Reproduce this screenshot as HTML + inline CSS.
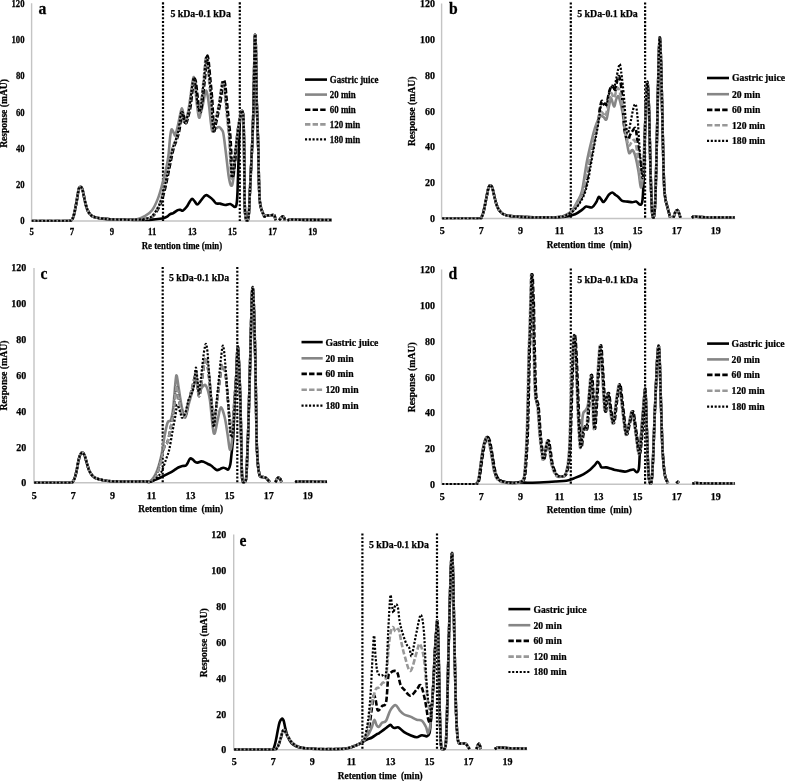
<!DOCTYPE html><html><head><meta charset="utf-8"><style>html,body{margin:0;padding:0;background:#fff;overflow:hidden}svg{display:block;will-change:transform}text{font-family:'Liberation Serif',serif;font-weight:bold;fill:#000;stroke:#000;stroke-width:0.25px}</style></head><body>
<svg width="785" height="781" viewBox="0 0 785 781">
<rect width="785" height="781" fill="#fff"/>
<g><path d="M31.6,3.3V221H332" fill="none" stroke="#c4c4c4" stroke-width="1.4"/><line x1="163" y1="2.3" x2="163" y2="221" stroke="#000" stroke-width="2.2" stroke-dasharray="2.1 1.64"/><line x1="239.8" y1="2.3" x2="239.8" y2="221" stroke="#000" stroke-width="2.2" stroke-dasharray="2.1 1.64"/><clipPath id="cpa"><rect x="31.6" y="0" width="303.4" height="221.75"/></clipPath><g clip-path="url(#cpa)"><path d="M31.7,221 C34.75,221 44.28,221 50,221 C55.72,221 62.67,221 66,221 C69.33,220.98 69.15,220.98 70,220.9 C70.85,220.82 70.63,220.93 71.1,220.5 C71.57,220.07 72.28,219.42 72.8,218.3 C73.32,217.18 73.73,215.68 74.2,213.8 C74.67,211.92 75.13,209.43 75.6,207 C76.07,204.57 76.58,201.63 77,199.2 C77.42,196.77 77.73,194.28 78.1,192.4 C78.47,190.52 78.78,188.83 79.2,187.9 C79.62,186.97 80.08,186.62 80.6,186.8 C81.12,186.98 81.82,187.78 82.3,189 C82.78,190.22 83.12,192.32 83.5,194.1 C83.88,195.88 84.18,197.82 84.6,199.7 C85.02,201.58 85.53,203.7 86,205.4 C86.47,207.1 86.78,208.5 87.4,209.9 C88.02,211.3 88.85,212.73 89.7,213.8 C90.55,214.87 91.28,215.65 92.5,216.3 C93.72,216.95 95.32,217.32 97,217.7 C98.68,218.08 100.43,218.35 102.6,218.6 C104.77,218.85 107.1,219.03 110,219.2 C112.9,219.37 116.67,219.5 120,219.6 C123.33,219.7 127.17,219.73 130,219.8 C132.83,219.87 134.5,219.98 137,220 C139.5,220.02 142.48,219.97 145,219.9 C147.52,219.83 149.6,219.8 152.1,219.6 C154.6,219.4 158,218.98 160,218.7 C162,218.42 162.92,218.23 164.1,217.9 C165.28,217.57 166.08,217.33 167.1,216.7 C168.12,216.07 169.17,214.7 170.2,214.1 C171.23,213.5 172.03,213.77 173.3,213.1 C174.57,212.43 176.62,210.63 177.8,210.1 C178.98,209.57 179.55,209.82 180.4,209.9 C181.25,209.98 181.88,211.08 182.9,210.6 C183.92,210.12 185.38,208.45 186.5,207 C187.62,205.55 188.67,203.25 189.6,201.9 C190.53,200.55 191.25,198.98 192.1,198.9 C192.95,198.82 193.85,200.47 194.7,201.4 C195.55,202.33 196.27,204.5 197.2,204.5 C198.13,204.5 199.2,202.68 200.3,201.4 C201.4,200.12 202.78,197.85 203.8,196.8 C204.82,195.75 205.37,195.02 206.4,195.1 C207.43,195.18 208.9,196.5 210,197.3 C211.1,198.1 211.98,198.88 213,199.9 C214.02,200.92 214.92,202.78 216.1,203.4 C217.28,204.02 218.58,203.33 220.1,203.6 C221.62,203.87 223.5,204.93 225.2,205 C226.9,205.07 228.68,203.67 230.3,204 C231.92,204.33 233.87,206.92 234.9,207 C235.93,207.08 236.07,207 236.5,204.5 C236.93,202 237.17,199.42 237.5,192 C237.83,184.58 238.17,170.33 238.5,160 C238.83,149.67 239.2,137.17 239.5,130 C239.8,122.83 239.88,120.25 240.3,117 C240.72,113.75 241.5,110.5 242,110.5 C242.5,110.5 242.97,112.08 243.3,117 C243.63,121.92 243.83,131.17 244,140 C244.17,148.83 244.2,160 244.3,170 C244.4,180 244.43,192.5 244.6,200 C244.77,207.5 244.98,211.62 245.3,215 C245.62,218.38 246.08,219.47 246.5,220.3 C246.92,221 247.38,221 247.8,220 C248.22,218.62 248.63,217 249,212 C249.37,207 249.63,197.83 250,190 C250.37,182.17 250.8,173.33 251.2,165 C251.6,156.67 252.03,149.17 252.4,140 C252.77,130.83 253.13,120 253.4,110 C253.67,100 253.82,90 254,80 C254.18,70 254.33,57.5 254.5,50 C254.67,42.5 254.8,36.33 255,35 C255.2,33.67 255.5,36.17 255.7,42 C255.9,47.83 256.03,60.33 256.2,70 C256.37,79.67 256.48,90.83 256.7,100 C256.92,109.17 257.23,116.67 257.5,125 C257.77,133.33 258.08,141.67 258.3,150 C258.52,158.33 258.65,168.33 258.8,175 C258.95,181.67 259.03,185.67 259.2,190 C259.37,194.33 259.48,197.95 259.8,201 C260.12,204.05 260.52,206.12 261.1,208.3 C261.68,210.48 262.75,212.73 263.3,214.1 C263.85,215.47 263.95,216.25 264.4,216.5 C264.85,216.75 265.23,215.78 266,215.6 C266.77,215.42 267.65,215.47 269,215.4 C270.35,215.33 273.08,214.77 274.1,215.2 C275.12,215.63 274.85,217.15 275.1,218 C275.35,218.85 275.52,219.92 275.6,220.3" fill="none" stroke="#000" stroke-width="2.6" stroke-linejoin="round"/><path d="M279.2,220.3 C279.5,219.92 280.37,218.68 281,218 C281.63,217.32 282.45,216.2 283,216.2 C283.55,216.2 283.97,217.32 284.3,218 C284.63,218.68 284.88,219.92 285,220.3" fill="none" stroke="#000" stroke-width="2.6" stroke-linejoin="round"/><path d="M287.5,220.3 C287.75,220.22 288.47,219.93 289,219.8 C289.53,219.67 289.7,219.52 290.7,219.5 C291.7,219.48 293.52,219.65 295,219.7 C296.48,219.75 297.1,219.77 299.6,219.8 C302.1,219.83 304.6,219.87 310,219.9 C315.4,219.93 328.33,219.98 332,220" fill="none" stroke="#000" stroke-width="2.6" stroke-linejoin="round"/><path d="M31.7,221 C34.75,221 44.28,221 50,221 C55.72,221 62.67,221 66,221 C69.33,220.98 69.15,220.98 70,220.9 C70.85,220.82 70.63,220.93 71.1,220.5 C71.57,220.07 72.28,219.42 72.8,218.3 C73.32,217.18 73.73,215.68 74.2,213.8 C74.67,211.92 75.13,209.43 75.6,207 C76.07,204.57 76.58,201.63 77,199.2 C77.42,196.77 77.73,194.28 78.1,192.4 C78.47,190.52 78.78,188.83 79.2,187.9 C79.62,186.97 80.08,186.62 80.6,186.8 C81.12,186.98 81.82,187.78 82.3,189 C82.78,190.22 83.12,192.32 83.5,194.1 C83.88,195.88 84.18,197.82 84.6,199.7 C85.02,201.58 85.53,203.7 86,205.4 C86.47,207.1 86.78,208.5 87.4,209.9 C88.02,211.3 88.85,212.73 89.7,213.8 C90.55,214.87 91.28,215.65 92.5,216.3 C93.72,216.95 95.32,217.32 97,217.7 C98.68,218.08 100.43,218.35 102.6,218.6 C104.77,218.85 107.1,219.03 110,219.2 C112.9,219.37 116.67,219.5 120,219.6 C123.33,219.7 127.17,219.87 130,219.8 C132.83,219.73 134.55,219.82 137,219.2 C139.45,218.58 142.18,217.6 144.7,216.1 C147.22,214.6 149.88,213.15 152.1,210.2 C154.32,207.25 156.28,202.82 158,198.4 C159.72,193.98 161.05,188.6 162.4,183.7 C163.75,178.8 165.1,173.62 166.1,169 C167.1,164.38 167.75,161.1 168.4,156 C169.05,150.9 169.48,142.8 170,138.4 C170.52,134 170.87,130.5 171.5,129.6 C172.13,128.7 173.17,132.05 173.8,133 C174.43,133.95 174.67,136.32 175.3,135.3 C175.93,134.28 176.82,130.22 177.6,126.9 C178.38,123.58 179.28,118.48 180,115.4 C180.72,112.32 181.27,108.4 181.9,108.4 C182.53,108.4 183.1,113.35 183.8,115.4 C184.5,117.45 185.32,121.6 186.1,120.7 C186.88,119.8 187.73,114.15 188.5,110 C189.27,105.85 190.03,100.3 190.7,95.8 C191.37,91.3 191.98,86.13 192.5,83 C193.02,79.87 193.35,76.83 193.8,77 C194.25,77.17 194.75,80.17 195.2,84 C195.65,87.83 195.88,94.45 196.5,100 C197.12,105.55 198.15,115.3 198.9,117.3 C199.65,119.3 200.32,114.22 201,112 C201.68,109.78 202.42,106.67 203,104 C203.58,101.33 204,98.22 204.5,96 C205,93.78 205.5,90.87 206,90.7 C206.5,90.53 206.98,92.45 207.5,95 C208.02,97.55 208.55,101.5 209.1,106 C209.65,110.5 210.28,117.83 210.8,122 C211.32,126.17 211.67,129.58 212.2,131 C212.73,132.42 213.37,130.92 214,130.5 C214.63,130.08 215.13,129.08 216,128.5 C216.87,127.92 218.28,126.83 219.2,127 C220.12,127.17 220.87,128.67 221.5,129.5 C222.13,130.33 222.53,130.27 223,132 C223.47,133.73 223.72,135.57 224.3,139.9 C224.88,144.23 225.8,152.15 226.5,158 C227.2,163.85 227.92,170.83 228.5,175 C229.08,179.17 229.58,181.25 230,183 C230.42,184.75 230.58,185.33 231,185.5 C231.42,185.67 231.97,186.58 232.5,184 C233.03,181.42 233.65,175.67 234.2,170 C234.75,164.33 235.28,155.83 235.8,150 C236.32,144.17 236.8,139.33 237.3,135 C237.8,130.67 238.3,127 238.8,124 C239.3,121 239.77,119.25 240.3,117 C240.83,114.75 241.5,110.5 242,110.5 C242.5,110.5 242.97,112.08 243.3,117 C243.63,121.92 243.83,131.17 244,140 C244.17,148.83 244.2,160 244.3,170 C244.4,180 244.43,192.5 244.6,200 C244.77,207.5 244.98,211.62 245.3,215 C245.62,218.38 246.08,219.47 246.5,220.3 C246.92,221 247.38,221 247.8,220 C248.22,218.62 248.63,217 249,212 C249.37,207 249.63,197.83 250,190 C250.37,182.17 250.8,173.33 251.2,165 C251.6,156.67 252.03,149.17 252.4,140 C252.77,130.83 253.13,120 253.4,110 C253.67,100 253.82,90 254,80 C254.18,70 254.33,57.5 254.5,50 C254.67,42.5 254.8,36.33 255,35 C255.2,33.67 255.5,36.17 255.7,42 C255.9,47.83 256.03,60.33 256.2,70 C256.37,79.67 256.48,90.83 256.7,100 C256.92,109.17 257.23,116.67 257.5,125 C257.77,133.33 258.08,141.67 258.3,150 C258.52,158.33 258.65,168.33 258.8,175 C258.95,181.67 259.03,185.67 259.2,190 C259.37,194.33 259.48,197.95 259.8,201 C260.12,204.05 260.52,206.12 261.1,208.3 C261.68,210.48 262.75,212.73 263.3,214.1 C263.85,215.47 263.95,216.25 264.4,216.5 C264.85,216.75 265.23,215.78 266,215.6 C266.77,215.42 267.65,215.47 269,215.4 C270.35,215.33 273.08,214.77 274.1,215.2 C275.12,215.63 274.85,217.15 275.1,218 C275.35,218.85 275.52,219.92 275.6,220.3" fill="none" stroke="#868686" stroke-width="2.6" stroke-linejoin="round"/><path d="M279.2,220.3 C279.5,219.92 280.37,218.68 281,218 C281.63,217.32 282.45,216.2 283,216.2 C283.55,216.2 283.97,217.32 284.3,218 C284.63,218.68 284.88,219.92 285,220.3" fill="none" stroke="#868686" stroke-width="2.6" stroke-linejoin="round"/><path d="M287.5,220.3 C287.75,220.22 288.47,219.93 289,219.8 C289.53,219.67 289.7,219.52 290.7,219.5 C291.7,219.48 293.52,219.65 295,219.7 C296.48,219.75 297.1,219.77 299.6,219.8 C302.1,219.83 304.6,219.87 310,219.9 C315.4,219.93 328.33,219.98 332,220" fill="none" stroke="#868686" stroke-width="2.6" stroke-linejoin="round"/><path d="M31.7,221 C34.75,221 44.28,221 50,221 C55.72,221 62.67,221 66,221 C69.33,220.98 69.15,220.98 70,220.9 C70.85,220.82 70.63,220.93 71.1,220.5 C71.57,220.07 72.28,219.42 72.8,218.3 C73.32,217.18 73.73,215.68 74.2,213.8 C74.67,211.92 75.13,209.43 75.6,207 C76.07,204.57 76.58,201.63 77,199.2 C77.42,196.77 77.73,194.28 78.1,192.4 C78.47,190.52 78.78,188.83 79.2,187.9 C79.62,186.97 80.08,186.62 80.6,186.8 C81.12,186.98 81.82,187.78 82.3,189 C82.78,190.22 83.12,192.32 83.5,194.1 C83.88,195.88 84.18,197.82 84.6,199.7 C85.02,201.58 85.53,203.7 86,205.4 C86.47,207.1 86.78,208.5 87.4,209.9 C88.02,211.3 88.85,212.73 89.7,213.8 C90.55,214.87 91.28,215.65 92.5,216.3 C93.72,216.95 95.32,217.32 97,217.7 C98.68,218.08 100.43,218.35 102.6,218.6 C104.77,218.85 107.1,219.03 110,219.2 C112.9,219.37 116.67,219.5 120,219.6 C123.33,219.7 127.17,219.8 130,219.8 C132.83,219.8 134.55,219.73 137,219.6 C139.45,219.47 142.03,219.58 144.7,219 C147.37,218.42 150.38,218.55 153,216.1 C155.62,213.65 158.43,208.72 160.4,204.3 C162.37,199.88 163.58,194.27 164.8,189.6 C166.02,184.93 166.72,180.97 167.7,176.3 C168.68,171.63 169.72,166.27 170.7,161.6 C171.68,156.93 172.62,151.9 173.6,148.3 C174.58,144.7 175.65,142.93 176.6,140 C177.55,137.07 178.55,134.37 179.3,130.7 C180.05,127.03 180.62,121.03 181.1,118 C181.58,114.97 181.8,113 182.2,112.5 C182.6,112 183.05,113.58 183.5,115 C183.95,116.42 184.42,119.67 184.9,121 C185.38,122.33 185.82,123.83 186.4,123 C186.98,122.17 187.7,118.83 188.4,116 C189.1,113.17 189.93,110.17 190.6,106 C191.27,101.83 191.88,95 192.4,91 C192.92,87 193.33,84.08 193.7,82 C194.07,79.92 194.23,78.5 194.6,78.5 C194.97,78.5 195.43,79.25 195.9,82 C196.37,84.75 196.9,90.83 197.4,95 C197.9,99.17 198.37,104.17 198.9,107 C199.43,109.83 200.05,112.67 200.6,112 C201.15,111.33 201.65,107 202.2,103 C202.75,99 203.42,92.33 203.9,88 C204.38,83.67 204.68,81.33 205.1,77 C205.52,72.67 206,65.58 206.4,62 C206.8,58.42 207.12,55.5 207.5,55.5 C207.88,55.5 208.22,57.92 208.7,62 C209.18,66.08 209.83,74 210.4,80 C210.97,86 211.63,91.67 212.1,98 C212.57,104.33 212.87,112.5 213.2,118 C213.53,123.5 213.73,129.67 214.1,131 C214.47,132.33 214.85,128.33 215.4,126 C215.95,123.67 216.62,120.67 217.4,117 C218.18,113.33 219.32,108.5 220.1,104 C220.88,99.5 221.47,93.92 222.1,90 C222.73,86.08 223.35,81.17 223.9,80.5 C224.45,79.83 224.97,83.17 225.4,86 C225.83,88.83 226,92.38 226.5,97.5 C227,102.62 227.75,110.12 228.4,116.7 C229.05,123.28 229.87,129.78 230.4,137 C230.93,144.22 231.23,153.25 231.6,160 C231.97,166.75 232.18,175.83 232.6,177.5 C233.02,179.17 233.58,173.75 234.1,170 C234.62,166.25 235.3,159.67 235.7,155 C236.1,150.33 236.03,146.83 236.5,142 C236.97,137.17 237.87,130.17 238.5,126 C239.13,121.83 239.72,119.58 240.3,117 C240.88,114.42 241.5,110.5 242,110.5 C242.5,110.5 242.97,112.08 243.3,117 C243.63,121.92 243.83,131.17 244,140 C244.17,148.83 244.2,160 244.3,170 C244.4,180 244.43,192.5 244.6,200 C244.77,207.5 244.98,211.62 245.3,215 C245.62,218.38 246.08,219.47 246.5,220.3 C246.92,221 247.38,221 247.8,220 C248.22,218.62 248.63,217 249,212 C249.37,207 249.63,197.83 250,190 C250.37,182.17 250.8,173.33 251.2,165 C251.6,156.67 252.03,149.17 252.4,140 C252.77,130.83 253.13,120 253.4,110 C253.67,100 253.82,90 254,80 C254.18,70 254.33,57.5 254.5,50 C254.67,42.5 254.8,36.33 255,35 C255.2,33.67 255.5,36.17 255.7,42 C255.9,47.83 256.03,60.33 256.2,70 C256.37,79.67 256.48,90.83 256.7,100 C256.92,109.17 257.23,116.67 257.5,125 C257.77,133.33 258.08,141.67 258.3,150 C258.52,158.33 258.65,168.33 258.8,175 C258.95,181.67 259.03,185.67 259.2,190 C259.37,194.33 259.48,197.95 259.8,201 C260.12,204.05 260.52,206.12 261.1,208.3 C261.68,210.48 262.75,212.73 263.3,214.1 C263.85,215.47 263.95,216.25 264.4,216.5 C264.85,216.75 265.23,215.78 266,215.6 C266.77,215.42 267.65,215.47 269,215.4 C270.35,215.33 273.08,214.77 274.1,215.2 C275.12,215.63 274.85,217.15 275.1,218 C275.35,218.85 275.52,219.92 275.6,220.3" fill="none" stroke="#000" stroke-width="2.6" stroke-dasharray="5.4 2.2" stroke-linejoin="round"/><path d="M279.2,220.3 C279.5,219.92 280.37,218.68 281,218 C281.63,217.32 282.45,216.2 283,216.2 C283.55,216.2 283.97,217.32 284.3,218 C284.63,218.68 284.88,219.92 285,220.3" fill="none" stroke="#000" stroke-width="2.6" stroke-dasharray="5.4 2.2" stroke-linejoin="round"/><path d="M287.5,220.3 C287.75,220.22 288.47,219.93 289,219.8 C289.53,219.67 289.7,219.52 290.7,219.5 C291.7,219.48 293.52,219.65 295,219.7 C296.48,219.75 297.1,219.77 299.6,219.8 C302.1,219.83 304.6,219.87 310,219.9 C315.4,219.93 328.33,219.98 332,220" fill="none" stroke="#000" stroke-width="2.6" stroke-dasharray="5.4 2.2" stroke-linejoin="round"/><path d="M31.7,221 C34.75,221 44.28,221 50,221 C55.72,221 62.67,221 66,221 C69.33,220.98 69.15,220.98 70,220.9 C70.85,220.82 70.63,220.93 71.1,220.5 C71.57,220.07 72.28,219.42 72.8,218.3 C73.32,217.18 73.73,215.68 74.2,213.8 C74.67,211.92 75.13,209.43 75.6,207 C76.07,204.57 76.58,201.63 77,199.2 C77.42,196.77 77.73,194.28 78.1,192.4 C78.47,190.52 78.78,188.83 79.2,187.9 C79.62,186.97 80.08,186.62 80.6,186.8 C81.12,186.98 81.82,187.78 82.3,189 C82.78,190.22 83.12,192.32 83.5,194.1 C83.88,195.88 84.18,197.82 84.6,199.7 C85.02,201.58 85.53,203.7 86,205.4 C86.47,207.1 86.78,208.5 87.4,209.9 C88.02,211.3 88.85,212.73 89.7,213.8 C90.55,214.87 91.28,215.65 92.5,216.3 C93.72,216.95 95.32,217.32 97,217.7 C98.68,218.08 100.43,218.35 102.6,218.6 C104.77,218.85 107.1,219.03 110,219.2 C112.9,219.37 116.67,219.5 120,219.6 C123.33,219.7 127.17,219.8 130,219.8 C132.83,219.8 134.55,219.73 137,219.6 C139.45,219.47 142.25,219.45 144.7,219 C147.15,218.55 149.3,219.22 151.7,216.9 C154.1,214.58 157.13,209.52 159.1,205.1 C161.07,200.68 162.28,195.07 163.5,190.4 C164.72,185.73 165.42,181.77 166.4,177.1 C167.38,172.43 168.42,167.07 169.4,162.4 C170.38,157.73 171.32,152.7 172.3,149.1 C173.28,145.5 174.35,143.73 175.3,140.8 C176.25,137.87 177.25,135.17 178,131.5 C178.75,127.83 179.32,121.83 179.8,118.8 C180.28,115.77 180.5,113.8 180.9,113.3 C181.3,112.8 181.75,114.38 182.2,115.8 C182.65,117.22 183.12,120.47 183.6,121.8 C184.08,123.13 184.52,124.63 185.1,123.8 C185.68,122.97 186.4,119.63 187.1,116.8 C187.8,113.97 188.63,110.97 189.3,106.8 C189.97,102.63 190.58,95.8 191.1,91.8 C191.62,87.8 192.03,84.88 192.4,82.8 C192.77,80.72 192.93,79.3 193.3,79.3 C193.67,79.3 194.13,80.05 194.6,82.8 C195.07,85.55 195.6,91.63 196.1,95.8 C196.6,99.97 197.07,104.97 197.6,107.8 C198.13,110.63 198.75,113.47 199.3,112.8 C199.85,112.13 200.35,107.8 200.9,103.8 C201.45,99.8 202.12,93.13 202.6,88.8 C203.08,84.47 203.38,82.13 203.8,77.8 C204.22,73.47 204.7,66.38 205.1,62.8 C205.5,59.22 205.82,56.3 206.2,56.3 C206.58,56.3 206.92,58.72 207.4,62.8 C207.88,66.88 208.53,74.8 209.1,80.8 C209.67,86.8 210.33,92.47 210.8,98.8 C211.27,105.13 211.57,113.3 211.9,118.8 C212.23,124.3 212.43,130.47 212.8,131.8 C213.17,133.13 213.55,129.13 214.1,126.8 C214.65,124.47 215.32,121.47 216.1,117.8 C216.88,114.13 218.02,109.3 218.8,104.8 C219.58,100.3 220.17,94.72 220.8,90.8 C221.43,86.88 222.05,81.97 222.6,81.3 C223.15,80.63 223.67,83.97 224.1,86.8 C224.53,89.63 224.7,93.18 225.2,98.3 C225.7,103.42 226.45,110.92 227.1,117.5 C227.75,124.08 228.57,130.58 229.1,137.8 C229.63,145.02 229.93,154.05 230.3,160.8 C230.67,167.55 230.88,176.63 231.3,178.3 C231.72,179.97 232.28,174.55 232.8,170.8 C233.32,167.05 233.78,160.6 234.4,155.8 C235.02,151 235.82,146.97 236.5,142 C237.18,137.03 237.87,130.17 238.5,126 C239.13,121.83 239.72,119.58 240.3,117 C240.88,114.42 241.5,110.5 242,110.5 C242.5,110.5 242.97,112.08 243.3,117 C243.63,121.92 243.83,131.17 244,140 C244.17,148.83 244.2,160 244.3,170 C244.4,180 244.43,192.5 244.6,200 C244.77,207.5 244.98,211.62 245.3,215 C245.62,218.38 246.08,219.47 246.5,220.3 C246.92,221 247.38,221 247.8,220 C248.22,218.62 248.63,217 249,212 C249.37,207 249.63,197.83 250,190 C250.37,182.17 250.8,173.33 251.2,165 C251.6,156.67 252.03,149.17 252.4,140 C252.77,130.83 253.13,120 253.4,110 C253.67,100 253.82,90 254,80 C254.18,70 254.33,57.5 254.5,50 C254.67,42.5 254.8,36.33 255,35 C255.2,33.67 255.5,36.17 255.7,42 C255.9,47.83 256.03,60.33 256.2,70 C256.37,79.67 256.48,90.83 256.7,100 C256.92,109.17 257.23,116.67 257.5,125 C257.77,133.33 258.08,141.67 258.3,150 C258.52,158.33 258.65,168.33 258.8,175 C258.95,181.67 259.03,185.67 259.2,190 C259.37,194.33 259.48,197.95 259.8,201 C260.12,204.05 260.52,206.12 261.1,208.3 C261.68,210.48 262.75,212.73 263.3,214.1 C263.85,215.47 263.95,216.25 264.4,216.5 C264.85,216.75 265.23,215.78 266,215.6 C266.77,215.42 267.65,215.47 269,215.4 C270.35,215.33 273.08,214.77 274.1,215.2 C275.12,215.63 274.85,217.15 275.1,218 C275.35,218.85 275.52,219.92 275.6,220.3" fill="none" stroke="#989898" stroke-width="2.6" stroke-dasharray="5.4 2.2" stroke-linejoin="round"/><path d="M279.2,220.3 C279.5,219.92 280.37,218.68 281,218 C281.63,217.32 282.45,216.2 283,216.2 C283.55,216.2 283.97,217.32 284.3,218 C284.63,218.68 284.88,219.92 285,220.3" fill="none" stroke="#989898" stroke-width="2.6" stroke-dasharray="5.4 2.2" stroke-linejoin="round"/><path d="M287.5,220.3 C287.75,220.22 288.47,219.93 289,219.8 C289.53,219.67 289.7,219.52 290.7,219.5 C291.7,219.48 293.52,219.65 295,219.7 C296.48,219.75 297.1,219.77 299.6,219.8 C302.1,219.83 304.6,219.87 310,219.9 C315.4,219.93 328.33,219.98 332,220" fill="none" stroke="#989898" stroke-width="2.6" stroke-dasharray="5.4 2.2" stroke-linejoin="round"/><path d="M31.7,221 C34.75,221 44.28,221 50,221 C55.72,221 62.67,221 66,221 C69.33,220.98 69.15,220.98 70,220.9 C70.85,220.82 70.63,220.93 71.1,220.5 C71.57,220.07 72.28,219.42 72.8,218.3 C73.32,217.18 73.73,215.68 74.2,213.8 C74.67,211.92 75.13,209.43 75.6,207 C76.07,204.57 76.58,201.63 77,199.2 C77.42,196.77 77.73,194.28 78.1,192.4 C78.47,190.52 78.78,188.83 79.2,187.9 C79.62,186.97 80.08,186.62 80.6,186.8 C81.12,186.98 81.82,187.78 82.3,189 C82.78,190.22 83.12,192.32 83.5,194.1 C83.88,195.88 84.18,197.82 84.6,199.7 C85.02,201.58 85.53,203.7 86,205.4 C86.47,207.1 86.78,208.5 87.4,209.9 C88.02,211.3 88.85,212.73 89.7,213.8 C90.55,214.87 91.28,215.65 92.5,216.3 C93.72,216.95 95.32,217.32 97,217.7 C98.68,218.08 100.43,218.35 102.6,218.6 C104.77,218.85 107.1,219.03 110,219.2 C112.9,219.37 116.67,219.5 120,219.6 C123.33,219.7 127.17,219.8 130,219.8 C132.83,219.8 134.55,219.73 137,219.6 C139.45,219.47 142.18,219.58 144.7,219 C147.22,218.42 149.63,218.55 152.1,216.1 C154.57,213.65 157.53,208.72 159.5,204.3 C161.47,199.88 162.68,194.27 163.9,189.6 C165.12,184.93 165.82,180.97 166.8,176.3 C167.78,171.63 168.82,166.27 169.8,161.6 C170.78,156.93 171.72,151.9 172.7,148.3 C173.68,144.7 174.75,142.93 175.7,140 C176.65,137.07 177.65,134.37 178.4,130.7 C179.15,127.03 179.72,121.03 180.2,118 C180.68,114.97 180.9,113 181.3,112.5 C181.7,112 182.15,113.58 182.6,115 C183.05,116.42 183.52,119.67 184,121 C184.48,122.33 184.92,123.83 185.5,123 C186.08,122.17 186.8,118.83 187.5,116 C188.2,113.17 189.03,110.17 189.7,106 C190.37,101.83 190.98,95 191.5,91 C192.02,87 192.43,84.08 192.8,82 C193.17,79.92 193.33,78.5 193.7,78.5 C194.07,78.5 194.53,79.25 195,82 C195.47,84.75 196,90.83 196.5,95 C197,99.17 197.47,104.17 198,107 C198.53,109.83 199.15,112.67 199.7,112 C200.25,111.33 200.75,107 201.3,103 C201.85,99 202.52,92.33 203,88 C203.48,83.67 203.78,81.33 204.2,77 C204.62,72.67 205.1,65.58 205.5,62 C205.9,58.42 206.22,55.5 206.6,55.5 C206.98,55.5 207.32,57.92 207.8,62 C208.28,66.08 208.93,74 209.5,80 C210.07,86 210.73,91.67 211.2,98 C211.67,104.33 211.97,112.5 212.3,118 C212.63,123.5 212.83,129.67 213.2,131 C213.57,132.33 213.95,128.33 214.5,126 C215.05,123.67 215.72,120.67 216.5,117 C217.28,113.33 218.42,108.5 219.2,104 C219.98,99.5 220.57,93.92 221.2,90 C221.83,86.08 222.45,81.17 223,80.5 C223.55,79.83 224.07,83.17 224.5,86 C224.93,88.83 225.1,92.38 225.6,97.5 C226.1,102.62 226.85,110.12 227.5,116.7 C228.15,123.28 228.97,129.78 229.5,137 C230.03,144.22 230.33,153.25 230.7,160 C231.07,166.75 231.28,175.83 231.7,177.5 C232.12,179.17 232.68,173.75 233.2,170 C233.72,166.25 234.25,159.67 234.8,155 C235.35,150.33 235.88,146.83 236.5,142 C237.12,137.17 237.87,130.17 238.5,126 C239.13,121.83 239.72,119.58 240.3,117 C240.88,114.42 241.5,110.5 242,110.5 C242.5,110.5 242.97,112.08 243.3,117 C243.63,121.92 243.83,131.17 244,140 C244.17,148.83 244.2,160 244.3,170 C244.4,180 244.43,192.5 244.6,200 C244.77,207.5 244.98,211.62 245.3,215 C245.62,218.38 246.08,219.47 246.5,220.3 C246.92,221 247.38,221 247.8,220 C248.22,218.62 248.63,217 249,212 C249.37,207 249.63,197.83 250,190 C250.37,182.17 250.8,173.33 251.2,165 C251.6,156.67 252.03,149.17 252.4,140 C252.77,130.83 253.13,120 253.4,110 C253.67,100 253.82,90 254,80 C254.18,70 254.33,57.5 254.5,50 C254.67,42.5 254.8,36.33 255,35 C255.2,33.67 255.5,36.17 255.7,42 C255.9,47.83 256.03,60.33 256.2,70 C256.37,79.67 256.48,90.83 256.7,100 C256.92,109.17 257.23,116.67 257.5,125 C257.77,133.33 258.08,141.67 258.3,150 C258.52,158.33 258.65,168.33 258.8,175 C258.95,181.67 259.03,185.67 259.2,190 C259.37,194.33 259.48,197.95 259.8,201 C260.12,204.05 260.52,206.12 261.1,208.3 C261.68,210.48 262.75,212.73 263.3,214.1 C263.85,215.47 263.95,216.25 264.4,216.5 C264.85,216.75 265.23,215.78 266,215.6 C266.77,215.42 267.65,215.47 269,215.4 C270.35,215.33 273.08,214.77 274.1,215.2 C275.12,215.63 274.85,217.15 275.1,218 C275.35,218.85 275.52,219.92 275.6,220.3" fill="none" stroke="#000" stroke-width="2.2" stroke-dasharray="2.1 1.67" stroke-linejoin="round"/><path d="M279.2,220.3 C279.5,219.92 280.37,218.68 281,218 C281.63,217.32 282.45,216.2 283,216.2 C283.55,216.2 283.97,217.32 284.3,218 C284.63,218.68 284.88,219.92 285,220.3" fill="none" stroke="#000" stroke-width="2.2" stroke-dasharray="2.1 1.67" stroke-linejoin="round"/><path d="M287.5,220.3 C287.75,220.22 288.47,219.93 289,219.8 C289.53,219.67 289.7,219.52 290.7,219.5 C291.7,219.48 293.52,219.65 295,219.7 C296.48,219.75 297.1,219.77 299.6,219.8 C302.1,219.83 304.6,219.87 310,219.9 C315.4,219.93 328.33,219.98 332,220" fill="none" stroke="#000" stroke-width="2.2" stroke-dasharray="2.1 1.67" stroke-linejoin="round"/></g><text transform="translate(31.7,235.43) scale(0.92,1)" font-size="9.5" text-anchor="middle">5</text><text transform="translate(71.84,235.43) scale(0.92,1)" font-size="9.5" text-anchor="middle">7</text><text transform="translate(111.98,235.43) scale(0.92,1)" font-size="9.5" text-anchor="middle">9</text><text transform="translate(152.12,235.43) scale(0.92,1)" font-size="9.5" text-anchor="middle">11</text><text transform="translate(192.26,235.43) scale(0.92,1)" font-size="9.5" text-anchor="middle">13</text><text transform="translate(232.4,235.43) scale(0.92,1)" font-size="9.5" text-anchor="middle">15</text><text transform="translate(272.54,235.43) scale(0.92,1)" font-size="9.5" text-anchor="middle">17</text><text transform="translate(312.68,235.43) scale(0.92,1)" font-size="9.5" text-anchor="middle">19</text><text transform="translate(24.6,6.7) scale(0.92,1)" font-size="9.5" text-anchor="end">120</text><text transform="translate(24.6,43) scale(0.92,1)" font-size="9.5" text-anchor="end">100</text><text transform="translate(24.6,79.4) scale(0.92,1)" font-size="9.5" text-anchor="end">80</text><text transform="translate(24.6,115.8) scale(0.92,1)" font-size="9.5" text-anchor="end">60</text><text transform="translate(24.6,152.1) scale(0.92,1)" font-size="9.5" text-anchor="end">40</text><text transform="translate(24.6,188.4) scale(0.92,1)" font-size="9.5" text-anchor="end">20</text><text transform="translate(24.6,224.4) scale(0.92,1)" font-size="9.5" text-anchor="end">0</text><text transform="translate(6.53,113.5) rotate(-90)" font-size="9.5" text-anchor="middle" textLength="68.7" lengthAdjust="spacingAndGlyphs">Response (mAU)</text><text x="141.7" y="248.7" font-size="10" textLength="80.5" lengthAdjust="spacingAndGlyphs" xml:space="preserve">Re tention time (min)</text><text transform="translate(38.4,14.2) scale(0.95,1)" font-size="16.5">a</text><text x="170.4" y="16.7" font-size="10" textLength="60.5" lengthAdjust="spacingAndGlyphs">5 kDa-0.1 kDa</text><line x1="305" y1="79.6" x2="327" y2="79.6" stroke="#000" stroke-width="2.6"/><text transform="translate(329.8,83) scale(0.89,1)" font-size="10">Gastric juice</text><line x1="305" y1="94.6" x2="327" y2="94.6" stroke="#868686" stroke-width="2.6"/><text transform="translate(329.8,98) scale(0.89,1)" font-size="10">20 min</text><line x1="305" y1="109.7" x2="327" y2="109.7" stroke="#000" stroke-width="2.6" stroke-dasharray="5.4 2.2"/><text transform="translate(329.8,113.1) scale(0.89,1)" font-size="10">60 min</text><line x1="305" y1="124.4" x2="327" y2="124.4" stroke="#989898" stroke-width="2.6" stroke-dasharray="5.4 2.2"/><text transform="translate(329.8,127.8) scale(0.89,1)" font-size="10">120 min</text><line x1="305" y1="139.3" x2="327" y2="139.3" stroke="#000" stroke-width="2.2" stroke-dasharray="2.1 1.67"/><text transform="translate(329.8,142.7) scale(0.89,1)" font-size="10">180 min</text></g>
<g><path d="M441.6,3.4V218.5H735.2" fill="none" stroke="#c4c4c4" stroke-width="1.4"/><line x1="570.8" y1="2.4" x2="570.8" y2="218.5" stroke="#000" stroke-width="2.2" stroke-dasharray="2.1 1.64"/><line x1="645.1" y1="2.4" x2="645.1" y2="218.5" stroke="#000" stroke-width="2.2" stroke-dasharray="2.1 1.64"/><clipPath id="cpb"><rect x="441.6" y="0" width="296.6" height="219.25"/></clipPath><g clip-path="url(#cpb)"><path d="M442.3,218.6 C445.25,218.5 453.8,218.5 460,218.5 C466.2,218.5 476.08,218.5 479.5,218.5 C482.92,218.5 479.97,218.5 480.5,218.3 C481.03,217.63 482.02,216.5 482.7,214.6 C483.38,212.7 483.95,209.87 484.6,206.9 C485.25,203.93 485.95,199.98 486.6,196.8 C487.25,193.62 487.87,189.73 488.5,187.8 C489.13,185.87 489.77,185.2 490.4,185.2 C491.03,185.2 491.67,186.08 492.3,187.8 C492.93,189.52 493.57,192.95 494.2,195.5 C494.83,198.05 495.35,200.77 496.1,203.1 C496.85,205.43 497.53,207.68 498.7,209.5 C499.87,211.32 501.3,212.93 503.1,214 C504.9,215.07 506.52,215.42 509.5,215.9 C512.48,216.38 516.97,216.65 521,216.9 C525.03,217.15 528.4,217.32 533.7,217.4 C539,217.48 548.42,217.47 552.8,217.4 C557.18,217.33 557.97,217.12 560,217 C562.03,216.88 562.48,217.17 565,216.7 C567.52,216.23 572.28,215.33 575.1,214.2 C577.92,213.07 580.07,211.17 581.9,209.9 C583.73,208.63 584.42,207.02 586.1,206.6 C587.78,206.18 590.32,208.12 592,207.4 C593.68,206.68 595.07,204.07 596.2,202.3 C597.33,200.53 597.95,197.27 598.8,196.8 C599.65,196.33 600.45,198.67 601.3,199.5 C602.15,200.33 602.63,202.6 603.9,201.8 C605.17,201 607.52,196.25 608.9,194.7 C610.28,193.15 611.1,192.45 612.2,192.5 C613.3,192.55 614.48,194.25 615.5,195 C616.52,195.75 617.18,196.03 618.3,197 C619.42,197.97 620.65,200.03 622.2,200.8 C623.75,201.57 625.92,201.35 627.6,201.6 C629.28,201.85 630.87,202.3 632.3,202.3 C633.73,202.3 634.9,201.2 636.2,201.6 C637.5,202 639.05,204.97 640.1,204.7 C641.15,204.43 641.85,205.78 642.5,200 C643.15,194.22 643.5,184.17 644,170 C644.5,155.83 644.95,129.67 645.5,115 C646.05,100.33 646.72,82.83 647.3,82 C647.88,81.17 648.47,95.33 649,110 C649.53,124.67 650.05,154.17 650.5,170 C650.95,185.83 651.33,197.25 651.7,205 C652.07,212.75 652.28,214.83 652.7,216.5 C653.12,218.17 653.73,218.5 654.2,215 C654.67,211.42 655.03,208.33 655.5,195 C655.97,181.67 656.5,156.17 657,135 C657.5,113.83 658.07,84.17 658.5,68 C658.93,51.83 659.25,41 659.6,38 C659.95,35 660.28,43 660.6,50 C660.92,57 661.17,67 661.5,80 C661.83,93 662.22,111.83 662.6,128 C662.98,144.17 663.38,165.5 663.8,177 C664.22,188.5 664.47,191.87 665.1,197 C665.73,202.13 666.75,204.38 667.6,207.8 C668.45,211.22 669.77,215.88 670.2,217.5" fill="none" stroke="#000" stroke-width="2.6" stroke-linejoin="round"/><path d="M673.5,217.6 C673.8,216.72 674.58,213.5 675.3,212.3 C676.02,211.1 676.95,209.52 677.8,210.4 C678.65,211.28 679.97,216.4 680.4,217.6" fill="none" stroke="#000" stroke-width="2.6" stroke-linejoin="round"/><path d="M691.8,217.6 C692.17,217.43 692.63,216.7 694,216.6 C695.37,216.5 697.33,216.88 700,217 C702.67,217.12 704.25,217.23 710,217.3 C715.75,217.37 730.42,217.38 734.5,217.4" fill="none" stroke="#000" stroke-width="2.6" stroke-linejoin="round"/><path d="M442.3,218.6 C445.25,218.5 453.8,218.5 460,218.5 C466.2,218.5 476.08,218.5 479.5,218.5 C482.92,218.5 479.97,218.5 480.5,218.3 C481.03,217.63 482.02,216.5 482.7,214.6 C483.38,212.7 483.95,209.87 484.6,206.9 C485.25,203.93 485.95,199.98 486.6,196.8 C487.25,193.62 487.87,189.73 488.5,187.8 C489.13,185.87 489.77,185.2 490.4,185.2 C491.03,185.2 491.67,186.08 492.3,187.8 C492.93,189.52 493.57,192.95 494.2,195.5 C494.83,198.05 495.35,200.77 496.1,203.1 C496.85,205.43 497.53,207.68 498.7,209.5 C499.87,211.32 501.3,212.93 503.1,214 C504.9,215.07 506.52,215.42 509.5,215.9 C512.48,216.38 516.97,216.65 521,216.9 C525.03,217.15 528.4,217.32 533.7,217.4 C539,217.48 548.42,217.47 552.8,217.4 C557.18,217.33 557.97,217.32 560,217 C562.03,216.68 563,216.58 565,215.5 C567,214.42 570,212.75 572,210.5 C574,208.25 575.35,205.18 577,202 C578.65,198.82 580.23,198.23 581.9,191.4 C583.57,184.57 585.32,169.73 587,161 C588.68,152.27 590.67,144.5 592,139 C593.33,133.5 594,131.17 595,128 C596,124.83 597.03,122.05 598,120 C598.97,117.95 599.88,116.2 600.8,115.7 C601.72,115.2 602.55,116.42 603.5,117 C604.45,117.58 605.58,121.03 606.5,119.2 C607.42,117.37 608.23,109.47 609,106 C609.77,102.53 610.27,98.32 611.1,98.4 C611.93,98.48 613.18,106.23 614,106.5 C614.82,106.77 615.32,101.73 616,100 C616.68,98.27 617.43,95.93 618.1,96.1 C618.77,96.27 619.23,98.12 620,101 C620.77,103.88 621.87,108.45 622.7,113.4 C623.53,118.35 624.28,125.77 625,130.7 C625.72,135.63 626.3,139.27 627,143 C627.7,146.73 628.32,151.93 629.2,153.1 C630.08,154.27 631.27,149.47 632.3,150 C633.33,150.53 634.35,152.65 635.4,156.3 C636.45,159.95 637.68,166.7 638.6,171.9 C639.52,177.1 640.17,186.98 640.9,187.5 C641.63,188.02 642.4,182.92 643,175 C643.6,167.08 644.08,150 644.5,140 C644.92,130 645.03,124.67 645.5,115 C645.97,105.33 646.72,82.83 647.3,82 C647.88,81.17 648.47,95.33 649,110 C649.53,124.67 650.05,154.17 650.5,170 C650.95,185.83 651.33,197.25 651.7,205 C652.07,212.75 652.28,214.83 652.7,216.5 C653.12,218.17 653.73,218.5 654.2,215 C654.67,211.42 655.03,208.33 655.5,195 C655.97,181.67 656.5,156.17 657,135 C657.5,113.83 658.07,84.17 658.5,68 C658.93,51.83 659.25,41 659.6,38 C659.95,35 660.28,43 660.6,50 C660.92,57 661.17,67 661.5,80 C661.83,93 662.22,111.83 662.6,128 C662.98,144.17 663.38,165.5 663.8,177 C664.22,188.5 664.47,191.87 665.1,197 C665.73,202.13 666.75,204.38 667.6,207.8 C668.45,211.22 669.77,215.88 670.2,217.5" fill="none" stroke="#868686" stroke-width="2.6" stroke-linejoin="round"/><path d="M673.5,217.6 C673.8,216.72 674.58,213.5 675.3,212.3 C676.02,211.1 676.95,209.52 677.8,210.4 C678.65,211.28 679.97,216.4 680.4,217.6" fill="none" stroke="#868686" stroke-width="2.6" stroke-linejoin="round"/><path d="M691.8,217.6 C692.17,217.43 692.63,216.7 694,216.6 C695.37,216.5 697.33,216.88 700,217 C702.67,217.12 704.25,217.23 710,217.3 C715.75,217.37 730.42,217.38 734.5,217.4" fill="none" stroke="#868686" stroke-width="2.6" stroke-linejoin="round"/><path d="M442.3,218.6 C445.25,218.5 453.8,218.5 460,218.5 C466.2,218.5 476.08,218.5 479.5,218.5 C482.92,218.5 479.97,218.5 480.5,218.3 C481.03,217.63 482.02,216.5 482.7,214.6 C483.38,212.7 483.95,209.87 484.6,206.9 C485.25,203.93 485.95,199.98 486.6,196.8 C487.25,193.62 487.87,189.73 488.5,187.8 C489.13,185.87 489.77,185.2 490.4,185.2 C491.03,185.2 491.67,186.08 492.3,187.8 C492.93,189.52 493.57,192.95 494.2,195.5 C494.83,198.05 495.35,200.77 496.1,203.1 C496.85,205.43 497.53,207.68 498.7,209.5 C499.87,211.32 501.3,212.93 503.1,214 C504.9,215.07 506.52,215.42 509.5,215.9 C512.48,216.38 516.97,216.65 521,216.9 C525.03,217.15 528.4,217.32 533.7,217.4 C539,217.48 548.42,217.47 552.8,217.4 C557.18,217.33 557.97,217.27 560,217 C562.03,216.73 563.03,216.7 565,215.8 C566.97,214.9 569.72,213.42 571.8,211.6 C573.88,209.78 575.63,207.72 577.5,204.9 C579.37,202.08 581.45,198.65 583,194.7 C584.55,190.75 585.63,186.48 586.8,181.2 C587.97,175.92 588.93,168.87 590,163 C591.07,157.13 592.17,151.33 593.2,146 C594.23,140.67 595.3,135.5 596.2,131 C597.1,126.5 598,122.67 598.6,119 C599.2,115.33 599.28,112 599.8,109 C600.32,106 601,102 601.7,101 C602.4,100 603.2,102.47 604,103 C604.8,103.53 605.75,105.53 606.5,104.2 C607.25,102.87 607.92,97.5 608.5,95 C609.08,92.5 609.37,90.73 610,89.2 C610.63,87.67 611.63,86 612.3,85.8 C612.97,85.6 613.52,87.05 614,88 C614.48,88.95 614.62,93.03 615.2,91.5 C615.78,89.97 616.83,81.3 617.5,78.8 C618.17,76.3 618.62,75.47 619.2,76.5 C619.78,77.53 620.42,80.25 621,85 C621.58,89.75 622.12,97.55 622.7,105 C623.28,112.45 623.68,123.77 624.5,129.7 C625.32,135.63 626.68,139.72 627.6,140.6 C628.52,141.48 629.22,136.55 630,135 C630.78,133.45 631.4,132.45 632.3,131.3 C633.2,130.15 634.62,127.07 635.4,128.1 C636.18,129.13 636.35,133.07 637,137.5 C637.65,141.93 638.38,148.45 639.3,154.7 C640.22,160.95 641.72,174.12 642.5,175 C643.28,175.88 643.5,170 644,160 C644.5,150 644.95,128 645.5,115 C646.05,102 646.72,82.83 647.3,82 C647.88,81.17 648.47,95.33 649,110 C649.53,124.67 650.05,154.17 650.5,170 C650.95,185.83 651.33,197.25 651.7,205 C652.07,212.75 652.28,214.83 652.7,216.5 C653.12,218.17 653.73,218.5 654.2,215 C654.67,211.42 655.03,208.33 655.5,195 C655.97,181.67 656.5,156.17 657,135 C657.5,113.83 658.07,84.17 658.5,68 C658.93,51.83 659.25,41 659.6,38 C659.95,35 660.28,43 660.6,50 C660.92,57 661.17,67 661.5,80 C661.83,93 662.22,111.83 662.6,128 C662.98,144.17 663.38,165.5 663.8,177 C664.22,188.5 664.47,191.87 665.1,197 C665.73,202.13 666.75,204.38 667.6,207.8 C668.45,211.22 669.77,215.88 670.2,217.5" fill="none" stroke="#000" stroke-width="2.6" stroke-dasharray="5.4 2.2" stroke-linejoin="round"/><path d="M673.5,217.6 C673.8,216.72 674.58,213.5 675.3,212.3 C676.02,211.1 676.95,209.52 677.8,210.4 C678.65,211.28 679.97,216.4 680.4,217.6" fill="none" stroke="#000" stroke-width="2.6" stroke-dasharray="5.4 2.2" stroke-linejoin="round"/><path d="M691.8,217.6 C692.17,217.43 692.63,216.7 694,216.6 C695.37,216.5 697.33,216.88 700,217 C702.67,217.12 704.25,217.23 710,217.3 C715.75,217.37 730.42,217.38 734.5,217.4" fill="none" stroke="#000" stroke-width="2.6" stroke-dasharray="5.4 2.2" stroke-linejoin="round"/><path d="M442.3,218.6 C445.25,218.5 453.8,218.5 460,218.5 C466.2,218.5 476.08,218.5 479.5,218.5 C482.92,218.5 479.97,218.5 480.5,218.3 C481.03,217.63 482.02,216.5 482.7,214.6 C483.38,212.7 483.95,209.87 484.6,206.9 C485.25,203.93 485.95,199.98 486.6,196.8 C487.25,193.62 487.87,189.73 488.5,187.8 C489.13,185.87 489.77,185.2 490.4,185.2 C491.03,185.2 491.67,186.08 492.3,187.8 C492.93,189.52 493.57,192.95 494.2,195.5 C494.83,198.05 495.35,200.77 496.1,203.1 C496.85,205.43 497.53,207.68 498.7,209.5 C499.87,211.32 501.3,212.93 503.1,214 C504.9,215.07 506.52,215.42 509.5,215.9 C512.48,216.38 516.97,216.65 521,216.9 C525.03,217.15 528.4,217.32 533.7,217.4 C539,217.48 548.42,217.47 552.8,217.4 C557.18,217.33 557.97,217.3 560,217 C562.03,216.7 563,216.6 565,215.6 C567,214.6 569.97,213.02 572,211 C574.03,208.98 575.45,206.5 577.2,203.5 C578.95,200.5 580.95,197.75 582.5,193 C584.05,188.25 585.33,180.5 586.5,175 C587.67,169.5 588.45,165.33 589.5,160 C590.55,154.67 591.75,148 592.8,143 C593.85,138 594.85,134 595.8,130 C596.75,126 597.67,122 598.5,119 C599.33,116 599.97,112.83 600.8,112 C601.63,111.17 602.67,113.42 603.5,114 C604.33,114.58 604.88,117.83 605.8,115.5 C606.72,113.17 608.12,103.75 609,100 C609.88,96.25 610.27,93.33 611.1,93 C611.93,92.67 613.18,98.17 614,98 C614.82,97.83 615.32,93.67 616,92 C616.68,90.33 617.43,87.83 618.1,88 C618.77,88.17 619.23,89.67 620,93 C620.77,96.33 621.87,102.17 622.7,108 C623.53,113.83 624.28,122.67 625,128 C625.72,133.33 626.3,137 627,140 C627.7,143 628.32,145.83 629.2,146 C630.08,146.17 631.27,141.67 632.3,141 C633.33,140.33 634.35,138.33 635.4,142 C636.45,145.67 637.68,156.33 638.6,163 C639.52,169.67 640.17,180.5 640.9,182 C641.63,183.5 642.4,179 643,172 C643.6,165 644.08,149.5 644.5,140 C644.92,130.5 645.03,124.67 645.5,115 C645.97,105.33 646.72,82.83 647.3,82 C647.88,81.17 648.47,95.33 649,110 C649.53,124.67 650.05,154.17 650.5,170 C650.95,185.83 651.33,197.25 651.7,205 C652.07,212.75 652.28,214.83 652.7,216.5 C653.12,218.17 653.73,218.5 654.2,215 C654.67,211.42 655.03,208.33 655.5,195 C655.97,181.67 656.5,156.17 657,135 C657.5,113.83 658.07,84.17 658.5,68 C658.93,51.83 659.25,41 659.6,38 C659.95,35 660.28,43 660.6,50 C660.92,57 661.17,67 661.5,80 C661.83,93 662.22,111.83 662.6,128 C662.98,144.17 663.38,165.5 663.8,177 C664.22,188.5 664.47,191.87 665.1,197 C665.73,202.13 666.75,204.38 667.6,207.8 C668.45,211.22 669.77,215.88 670.2,217.5" fill="none" stroke="#989898" stroke-width="2.6" stroke-dasharray="5.4 2.2" stroke-linejoin="round"/><path d="M673.5,217.6 C673.8,216.72 674.58,213.5 675.3,212.3 C676.02,211.1 676.95,209.52 677.8,210.4 C678.65,211.28 679.97,216.4 680.4,217.6" fill="none" stroke="#989898" stroke-width="2.6" stroke-dasharray="5.4 2.2" stroke-linejoin="round"/><path d="M691.8,217.6 C692.17,217.43 692.63,216.7 694,216.6 C695.37,216.5 697.33,216.88 700,217 C702.67,217.12 704.25,217.23 710,217.3 C715.75,217.37 730.42,217.38 734.5,217.4" fill="none" stroke="#989898" stroke-width="2.6" stroke-dasharray="5.4 2.2" stroke-linejoin="round"/><path d="M442.3,218.6 C445.25,218.5 453.8,218.5 460,218.5 C466.2,218.5 476.08,218.5 479.5,218.5 C482.92,218.5 479.97,218.5 480.5,218.3 C481.03,217.63 482.02,216.5 482.7,214.6 C483.38,212.7 483.95,209.87 484.6,206.9 C485.25,203.93 485.95,199.98 486.6,196.8 C487.25,193.62 487.87,189.73 488.5,187.8 C489.13,185.87 489.77,185.2 490.4,185.2 C491.03,185.2 491.67,186.08 492.3,187.8 C492.93,189.52 493.57,192.95 494.2,195.5 C494.83,198.05 495.35,200.77 496.1,203.1 C496.85,205.43 497.53,207.68 498.7,209.5 C499.87,211.32 501.3,212.93 503.1,214 C504.9,215.07 506.52,215.42 509.5,215.9 C512.48,216.38 516.97,216.65 521,216.9 C525.03,217.15 528.4,217.32 533.7,217.4 C539,217.48 548.42,217.47 552.8,217.4 C557.18,217.33 557.97,217.27 560,217 C562.03,216.73 562.92,216.7 565,215.8 C567.08,214.9 570.25,213.42 572.5,211.6 C574.75,209.78 576.58,207.67 578.5,204.9 C580.42,202.13 582.45,198.82 584,195 C585.55,191.18 586.63,187.17 587.8,182 C588.97,176.83 589.97,169.83 591,164 C592.03,158.17 593.03,152.33 594,147 C594.97,141.67 595.97,136.67 596.8,132 C597.63,127.33 598.42,122.83 599,119 C599.58,115.17 599.8,111.75 600.3,109 C600.8,106.25 601.38,103.17 602,102.5 C602.62,101.83 603.25,104.58 604,105 C604.75,105.42 605.75,106.5 606.5,105 C607.25,103.5 607.92,98.5 608.5,96 C609.08,93.5 609.37,91.67 610,90 C610.63,88.33 611.63,86.33 612.3,86 C612.97,85.67 613.38,89 614,88 C614.62,87 615.33,83 616,80 C616.67,77 617.37,72.67 618,70 C618.63,67.33 619.27,63.67 619.8,64 C620.33,64.33 620.72,68.57 621.2,72 C621.68,75.43 622.17,79.62 622.7,84.6 C623.23,89.58 623.92,96.13 624.4,101.9 C624.88,107.67 625.12,114.02 625.6,119.2 C626.08,124.38 626.73,131.2 627.3,133 C627.87,134.8 628.38,132.17 629,130 C629.62,127.83 630.33,123.33 631,120 C631.67,116.67 632.37,112.58 633,110 C633.63,107.42 634.27,105.17 634.8,104.5 C635.33,103.83 635.72,103.55 636.2,106 C636.68,108.45 637.27,114.12 637.7,119.2 C638.13,124.28 638.4,130.58 638.8,136.5 C639.2,142.42 639.48,147.78 640.1,154.7 C640.72,161.62 641.85,177.12 642.5,178 C643.15,178.88 643.5,170.5 644,160 C644.5,149.5 644.95,128 645.5,115 C646.05,102 646.72,82.83 647.3,82 C647.88,81.17 648.47,95.33 649,110 C649.53,124.67 650.05,154.17 650.5,170 C650.95,185.83 651.33,197.25 651.7,205 C652.07,212.75 652.28,214.83 652.7,216.5 C653.12,218.17 653.73,218.5 654.2,215 C654.67,211.42 655.03,208.33 655.5,195 C655.97,181.67 656.5,156.17 657,135 C657.5,113.83 658.07,84.17 658.5,68 C658.93,51.83 659.25,41 659.6,38 C659.95,35 660.28,43 660.6,50 C660.92,57 661.17,67 661.5,80 C661.83,93 662.22,111.83 662.6,128 C662.98,144.17 663.38,165.5 663.8,177 C664.22,188.5 664.47,191.87 665.1,197 C665.73,202.13 666.75,204.38 667.6,207.8 C668.45,211.22 669.77,215.88 670.2,217.5" fill="none" stroke="#000" stroke-width="2.2" stroke-dasharray="2.1 1.67" stroke-linejoin="round"/><path d="M673.5,217.6 C673.8,216.72 674.58,213.5 675.3,212.3 C676.02,211.1 676.95,209.52 677.8,210.4 C678.65,211.28 679.97,216.4 680.4,217.6" fill="none" stroke="#000" stroke-width="2.2" stroke-dasharray="2.1 1.67" stroke-linejoin="round"/><path d="M691.8,217.6 C692.17,217.43 692.63,216.7 694,216.6 C695.37,216.5 697.33,216.88 700,217 C702.67,217.12 704.25,217.23 710,217.3 C715.75,217.37 730.42,217.38 734.5,217.4" fill="none" stroke="#000" stroke-width="2.2" stroke-dasharray="2.1 1.67" stroke-linejoin="round"/></g><text x="442.3" y="234" font-size="10" text-anchor="middle">5</text><text x="481.36" y="234" font-size="10" text-anchor="middle">7</text><text x="520.42" y="234" font-size="10" text-anchor="middle">9</text><text x="559.48" y="234" font-size="10" text-anchor="middle">11</text><text x="598.54" y="234" font-size="10" text-anchor="middle">13</text><text x="637.6" y="234" font-size="10" text-anchor="middle">15</text><text x="676.66" y="234" font-size="10" text-anchor="middle">17</text><text x="715.72" y="234" font-size="10" text-anchor="middle">19</text><text x="434.9" y="6.9" font-size="10" text-anchor="end">120</text><text x="434.9" y="42.8" font-size="10" text-anchor="end">100</text><text x="434.9" y="79" font-size="10" text-anchor="end">80</text><text x="434.9" y="114.8" font-size="10" text-anchor="end">60</text><text x="434.9" y="150.3" font-size="10" text-anchor="end">40</text><text x="434.9" y="186.4" font-size="10" text-anchor="end">20</text><text x="434.9" y="222.2" font-size="10" text-anchor="end">0</text><text transform="translate(415.4,111.3) rotate(-90)" font-size="10" text-anchor="middle" textLength="69.5" lengthAdjust="spacingAndGlyphs">Response (mAU)</text><text x="546.8" y="247.7" font-size="10" textLength="84.7" lengthAdjust="spacingAndGlyphs" xml:space="preserve">Retention time &#160;(min)</text><text transform="translate(449,13.8) scale(0.95,1)" font-size="16.5">b</text><text x="577.2" y="16.8" font-size="10" textLength="60.5" lengthAdjust="spacingAndGlyphs">5 kDa-0.1 kDa</text><line x1="707" y1="78" x2="729" y2="78" stroke="#000" stroke-width="2.6"/><text transform="translate(732,81.4) scale(0.97,1)" font-size="10">Gastric juice</text><line x1="707" y1="94.2" x2="729" y2="94.2" stroke="#868686" stroke-width="2.6"/><text transform="translate(732,97.6) scale(0.97,1)" font-size="10">20 min</text><line x1="707" y1="109.9" x2="729" y2="109.9" stroke="#000" stroke-width="2.6" stroke-dasharray="5.4 2.2"/><text transform="translate(732,113.3) scale(0.97,1)" font-size="10">60 min</text><line x1="707" y1="125.3" x2="729" y2="125.3" stroke="#989898" stroke-width="2.6" stroke-dasharray="5.4 2.2"/><text transform="translate(732,128.7) scale(0.97,1)" font-size="10">120 min</text><line x1="707" y1="140.9" x2="729" y2="140.9" stroke="#000" stroke-width="2.2" stroke-dasharray="2.1 1.67"/><text transform="translate(732,144.3) scale(0.97,1)" font-size="10">180 min</text></g>
<g><path d="M34,268V482.8H327.3" fill="none" stroke="#c4c4c4" stroke-width="1.4"/><line x1="162.7" y1="267" x2="162.7" y2="482.8" stroke="#000" stroke-width="2.2" stroke-dasharray="2.1 1.64"/><line x1="237.3" y1="267" x2="237.3" y2="482.8" stroke="#000" stroke-width="2.2" stroke-dasharray="2.1 1.64"/><clipPath id="cpc"><rect x="34" y="0" width="296.3" height="483.55"/></clipPath><g clip-path="url(#cpc)"><path d="M34.3,482.8 C36.92,482.8 45.72,482.8 50,482.8 C54.28,482.8 56.47,482.8 60,482.8 C63.53,482.8 69.15,482.8 71.2,482.8 C73.25,482.72 71.73,482.8 72.3,482.3 C72.87,481.57 73.88,480.32 74.6,478.4 C75.32,476.48 75.95,473.77 76.6,470.8 C77.25,467.83 77.87,463.33 78.5,460.6 C79.13,457.87 79.7,455.72 80.4,454.4 C81.1,453.08 81.97,452.42 82.7,452.7 C83.43,452.98 84.12,454.37 84.8,456.1 C85.48,457.83 86.05,460.65 86.8,463.1 C87.55,465.55 88.25,468.57 89.3,470.8 C90.35,473.03 91.62,475.13 93.1,476.5 C94.58,477.87 95.65,478.25 98.2,479 C100.75,479.75 104.15,480.57 108.4,481 C112.65,481.43 119.03,481.5 123.7,481.6 C128.37,481.7 132.85,481.65 136.4,481.6 C139.95,481.55 142.73,481.27 145,481.3 C147.27,481.33 148.33,482.05 150,481.8 C151.67,481.55 153.33,480.48 155,479.8 C156.67,479.12 158.32,478.47 160,477.7 C161.68,476.93 163.4,476.05 165.1,475.2 C166.8,474.35 168.67,473.45 170.2,472.6 C171.73,471.75 172.95,470.95 174.3,470.1 C175.65,469.25 176.95,468.18 178.3,467.5 C179.65,466.82 181.12,466.33 182.4,466 C183.68,465.67 185.07,466.1 186,465.5 C186.93,464.9 187.32,463.57 188,462.4 C188.68,461.23 189.33,459 190.1,458.5 C190.87,458 191.75,458.83 192.6,459.4 C193.45,459.97 194.35,461.37 195.2,461.9 C196.05,462.43 196.68,462.68 197.7,462.6 C198.72,462.52 200.28,461.52 201.3,461.4 C202.32,461.28 202.7,461.47 203.8,461.9 C204.9,462.33 206.7,463.4 207.9,464 C209.1,464.6 209.98,464.83 211,465.5 C212.02,466.17 212.98,467.23 214,468 C215.02,468.77 216.08,469.92 217.1,470.1 C218.12,470.28 219.08,469.5 220.1,469.1 C221.12,468.7 222.27,467.8 223.2,467.7 C224.13,467.6 224.85,468.18 225.7,468.5 C226.55,468.82 227.53,470.27 228.3,469.6 C229.07,468.93 229.78,466.88 230.3,464.5 C230.82,462.12 231.05,458.37 231.4,455.3 C231.75,452.23 232.07,449.48 232.4,446.1 C232.73,442.72 233,442.68 233.4,435 C233.8,427.32 234.32,410 234.8,400 C235.28,390 235.83,383.83 236.3,375 C236.77,366.17 237.17,349.17 237.6,347 C238.03,344.83 238.45,353.17 238.9,362 C239.35,370.83 239.92,387 240.3,400 C240.68,413 240.95,428.33 241.2,440 C241.45,451.67 241.57,463.08 241.8,470 C242.03,476.92 242.15,479.5 242.6,481.5 C243.05,482.8 243.9,482.58 244.5,482 C245.1,481.42 245.73,482.5 246.2,478 C246.67,473.5 246.93,463.83 247.3,455 C247.67,446.17 248.03,436.67 248.4,425 C248.77,413.33 249.13,398.33 249.5,385 C249.87,371.67 250.25,358.33 250.6,345 C250.95,331.67 251.27,314.67 251.6,305 C251.93,295.33 252.23,287 252.6,287 C252.97,287 253.35,293 253.8,305 C254.25,317 254.83,336.85 255.3,359 C255.77,381.15 256.17,420.37 256.6,437.9 C257.03,455.43 257.48,458.4 257.9,464.2 C258.32,470 258.72,470.65 259.1,472.7 C259.48,474.75 259.17,475.7 260.2,476.5 C261.23,477.3 263.95,476.83 265.3,477.5 C266.65,478.17 267.53,479.72 268.3,480.5 C269.07,481.28 269.63,481.92 269.9,482.2" fill="none" stroke="#000" stroke-width="2.6" stroke-linejoin="round"/><path d="M275.5,482.2 C275.75,481.67 276.5,479.77 277,479 C277.5,478.23 278,477.68 278.5,477.6 C279,477.52 279.5,477.73 280,478.5 C280.5,479.27 281.25,481.58 281.5,482.2" fill="none" stroke="#000" stroke-width="2.6" stroke-linejoin="round"/><path d="M295.3,482.2 C295.58,482.05 296.22,481.42 297,481.3 C297.78,481.18 297.83,481.43 300,481.5 C302.17,481.57 305.5,481.65 310,481.7 C314.5,481.75 324.17,481.78 327,481.8" fill="none" stroke="#000" stroke-width="2.6" stroke-linejoin="round"/><path d="M34.3,482.8 C36.92,482.8 45.72,482.8 50,482.8 C54.28,482.8 56.47,482.8 60,482.8 C63.53,482.8 69.15,482.8 71.2,482.8 C73.25,482.72 71.73,482.8 72.3,482.3 C72.87,481.57 73.88,480.32 74.6,478.4 C75.32,476.48 75.95,473.77 76.6,470.8 C77.25,467.83 77.87,463.33 78.5,460.6 C79.13,457.87 79.7,455.72 80.4,454.4 C81.1,453.08 81.97,452.42 82.7,452.7 C83.43,452.98 84.12,454.37 84.8,456.1 C85.48,457.83 86.05,460.65 86.8,463.1 C87.55,465.55 88.25,468.57 89.3,470.8 C90.35,473.03 91.62,475.13 93.1,476.5 C94.58,477.87 95.65,478.25 98.2,479 C100.75,479.75 104.15,480.57 108.4,481 C112.65,481.43 119.03,481.5 123.7,481.6 C128.37,481.7 132.85,481.65 136.4,481.6 C139.95,481.55 142.73,481.32 145,481.3 C147.27,481.28 148.1,482.8 150,481.5 C151.9,479.98 154.53,476.42 156.4,472.2 C158.27,467.98 159.87,462.08 161.2,456.2 C162.53,450.32 163.33,442.52 164.4,436.9 C165.47,431.28 166.53,425.3 167.6,422.5 C168.67,419.7 169.87,422.5 170.8,420.1 C171.73,417.7 172.4,414.65 173.2,408.1 C174,401.55 175,386.15 175.6,380.8 C176.2,375.45 176.27,374.67 176.8,376 C177.33,377.33 177.93,383.45 178.8,388.8 C179.67,394.15 180.92,403.28 182,408.1 C183.08,412.92 184.22,418.23 185.3,417.7 C186.38,417.17 187.43,408.9 188.5,404.9 C189.57,400.9 190.78,397.02 191.7,393.7 C192.62,390.38 193.12,387.02 194,385 C194.88,382.98 196.18,380.27 197,381.6 C197.82,382.93 198.08,392.02 198.9,393 C199.72,393.98 200.73,388.73 201.9,387.5 C203.07,386.27 204.58,383.62 205.9,385.6 C207.22,387.58 208.48,391.47 209.8,399.4 C211.12,407.33 212.47,429.88 213.8,433.2 C215.13,436.52 216.63,423.6 217.8,419.3 C218.97,415 219.65,407.73 220.8,407.4 C221.95,407.07 223.55,412.67 224.7,417.3 C225.85,421.93 226.87,429.92 227.7,435.2 C228.53,440.48 229.07,447.37 229.7,449 C230.33,450.63 230.87,449.83 231.5,445 C232.13,440.17 232.92,428.33 233.5,420 C234.08,411.67 234.53,402.5 235,395 C235.47,387.5 235.87,383 236.3,375 C236.73,367 237.17,349.17 237.6,347 C238.03,344.83 238.45,353.17 238.9,362 C239.35,370.83 239.92,387 240.3,400 C240.68,413 240.95,428.33 241.2,440 C241.45,451.67 241.57,463.08 241.8,470 C242.03,476.92 242.15,479.5 242.6,481.5 C243.05,482.8 243.9,482.58 244.5,482 C245.1,481.42 245.73,482.5 246.2,478 C246.67,473.5 246.93,463.83 247.3,455 C247.67,446.17 248.03,436.67 248.4,425 C248.77,413.33 249.13,398.33 249.5,385 C249.87,371.67 250.25,358.33 250.6,345 C250.95,331.67 251.27,314.67 251.6,305 C251.93,295.33 252.23,287 252.6,287 C252.97,287 253.35,293 253.8,305 C254.25,317 254.83,336.85 255.3,359 C255.77,381.15 256.17,420.37 256.6,437.9 C257.03,455.43 257.48,458.4 257.9,464.2 C258.32,470 258.72,470.65 259.1,472.7 C259.48,474.75 259.17,475.7 260.2,476.5 C261.23,477.3 263.95,476.83 265.3,477.5 C266.65,478.17 267.53,479.72 268.3,480.5 C269.07,481.28 269.63,481.92 269.9,482.2" fill="none" stroke="#868686" stroke-width="2.6" stroke-linejoin="round"/><path d="M275.5,482.2 C275.75,481.67 276.5,479.77 277,479 C277.5,478.23 278,477.68 278.5,477.6 C279,477.52 279.5,477.73 280,478.5 C280.5,479.27 281.25,481.58 281.5,482.2" fill="none" stroke="#868686" stroke-width="2.6" stroke-linejoin="round"/><path d="M295.3,482.2 C295.58,482.05 296.22,481.42 297,481.3 C297.78,481.18 297.83,481.43 300,481.5 C302.17,481.57 305.5,481.65 310,481.7 C314.5,481.75 324.17,481.78 327,481.8" fill="none" stroke="#868686" stroke-width="2.6" stroke-linejoin="round"/><path d="M34.3,482.8 C36.92,482.8 45.72,482.8 50,482.8 C54.28,482.8 56.47,482.8 60,482.8 C63.53,482.8 69.15,482.8 71.2,482.8 C73.25,482.72 71.73,482.8 72.3,482.3 C72.87,481.57 73.88,480.32 74.6,478.4 C75.32,476.48 75.95,473.77 76.6,470.8 C77.25,467.83 77.87,463.33 78.5,460.6 C79.13,457.87 79.7,455.72 80.4,454.4 C81.1,453.08 81.97,452.42 82.7,452.7 C83.43,452.98 84.12,454.37 84.8,456.1 C85.48,457.83 86.05,460.65 86.8,463.1 C87.55,465.55 88.25,468.57 89.3,470.8 C90.35,473.03 91.62,475.13 93.1,476.5 C94.58,477.87 95.65,478.25 98.2,479 C100.75,479.75 104.15,480.57 108.4,481 C112.65,481.43 119.03,481.5 123.7,481.6 C128.37,481.7 132.85,481.65 136.4,481.6 C139.95,481.55 142.73,481.27 145,481.3 C147.27,481.33 148.1,482.78 150,481.8 C151.9,480.82 154.53,479.13 156.4,475.4 C158.27,471.67 159.87,464.22 161.2,459.4 C162.53,454.58 163.33,449.45 164.4,446.5 C165.47,443.55 166.53,444.9 167.6,441.7 C168.67,438.5 169.73,432.9 170.8,427.3 C171.87,421.7 173.07,415.05 174,408.1 C174.93,401.15 175.6,387.2 176.4,385.6 C177.2,384 177.87,393.95 178.8,398.5 C179.73,403.05 180.92,409.97 182,412.9 C183.08,415.83 184.22,417.92 185.3,416.1 C186.38,414.28 187.43,406.35 188.5,402 C189.57,397.65 190.7,394 191.7,390 C192.7,386 193.78,381 194.5,378 C195.22,375 195.27,369 196,372 C196.73,375 197.92,394.67 198.9,396 C199.88,397.33 201.05,385.17 201.9,380 C202.75,374.83 203.33,368.67 204,365 C204.67,361.33 205.15,356.83 205.9,358 C206.65,359.17 207.52,364.17 208.5,372 C209.48,379.83 210.92,396.17 211.8,405 C212.68,413.83 212.8,426.67 213.8,425 C214.8,423.33 216.63,403.83 217.8,395 C218.97,386.17 219.98,377 220.8,372 C221.62,367 221.88,364.5 222.7,365 C223.52,365.5 224.7,367.5 225.7,375 C226.7,382.5 227.87,400.5 228.7,410 C229.53,419.5 230.03,429.5 230.7,432 C231.37,434.5 232.07,430.33 232.7,425 C233.33,419.67 233.9,408.33 234.5,400 C235.1,391.67 235.78,383.83 236.3,375 C236.82,366.17 237.17,349.17 237.6,347 C238.03,344.83 238.45,353.17 238.9,362 C239.35,370.83 239.92,387 240.3,400 C240.68,413 240.95,428.33 241.2,440 C241.45,451.67 241.57,463.08 241.8,470 C242.03,476.92 242.15,479.5 242.6,481.5 C243.05,482.8 243.9,482.58 244.5,482 C245.1,481.42 245.73,482.5 246.2,478 C246.67,473.5 246.93,463.83 247.3,455 C247.67,446.17 248.03,436.67 248.4,425 C248.77,413.33 249.13,398.33 249.5,385 C249.87,371.67 250.25,358.33 250.6,345 C250.95,331.67 251.27,314.67 251.6,305 C251.93,295.33 252.23,287 252.6,287 C252.97,287 253.35,293 253.8,305 C254.25,317 254.83,336.85 255.3,359 C255.77,381.15 256.17,420.37 256.6,437.9 C257.03,455.43 257.48,458.4 257.9,464.2 C258.32,470 258.72,470.65 259.1,472.7 C259.48,474.75 259.17,475.7 260.2,476.5 C261.23,477.3 263.95,476.83 265.3,477.5 C266.65,478.17 267.53,479.72 268.3,480.5 C269.07,481.28 269.63,481.92 269.9,482.2" fill="none" stroke="#000" stroke-width="2.6" stroke-dasharray="5.4 2.2" stroke-linejoin="round"/><path d="M275.5,482.2 C275.75,481.67 276.5,479.77 277,479 C277.5,478.23 278,477.68 278.5,477.6 C279,477.52 279.5,477.73 280,478.5 C280.5,479.27 281.25,481.58 281.5,482.2" fill="none" stroke="#000" stroke-width="2.6" stroke-dasharray="5.4 2.2" stroke-linejoin="round"/><path d="M295.3,482.2 C295.58,482.05 296.22,481.42 297,481.3 C297.78,481.18 297.83,481.43 300,481.5 C302.17,481.57 305.5,481.65 310,481.7 C314.5,481.75 324.17,481.78 327,481.8" fill="none" stroke="#000" stroke-width="2.6" stroke-dasharray="5.4 2.2" stroke-linejoin="round"/><path d="M34.3,482.8 C36.92,482.8 45.72,482.8 50,482.8 C54.28,482.8 56.47,482.8 60,482.8 C63.53,482.8 69.15,482.8 71.2,482.8 C73.25,482.72 71.73,482.8 72.3,482.3 C72.87,481.57 73.88,480.32 74.6,478.4 C75.32,476.48 75.95,473.77 76.6,470.8 C77.25,467.83 77.87,463.33 78.5,460.6 C79.13,457.87 79.7,455.72 80.4,454.4 C81.1,453.08 81.97,452.42 82.7,452.7 C83.43,452.98 84.12,454.37 84.8,456.1 C85.48,457.83 86.05,460.65 86.8,463.1 C87.55,465.55 88.25,468.57 89.3,470.8 C90.35,473.03 91.62,475.13 93.1,476.5 C94.58,477.87 95.65,478.25 98.2,479 C100.75,479.75 104.15,480.57 108.4,481 C112.65,481.43 119.03,481.5 123.7,481.6 C128.37,481.7 132.85,481.65 136.4,481.6 C139.95,481.55 142.73,481.27 145,481.3 C147.27,481.33 148.1,482.78 150,481.8 C151.9,480.82 154.53,479.13 156.4,475.4 C158.27,471.67 159.87,464.22 161.2,459.4 C162.53,454.58 163.33,449.45 164.4,446.5 C165.47,443.55 166.53,444.9 167.6,441.7 C168.67,438.5 169.73,432.9 170.8,427.3 C171.87,421.7 173.07,415.05 174,408.1 C174.93,401.15 175.6,387.2 176.4,385.6 C177.2,384 177.87,393.95 178.8,398.5 C179.73,403.05 180.92,409.97 182,412.9 C183.08,415.83 184.22,417.92 185.3,416.1 C186.38,414.28 187.43,406.35 188.5,402 C189.57,397.65 190.7,394 191.7,390 C192.7,386 193.78,381 194.5,378 C195.22,375 195.27,369 196,372 C196.73,375 197.92,394.67 198.9,396 C199.88,397.33 201.05,385.17 201.9,380 C202.75,374.83 203.33,368.67 204,365 C204.67,361.33 205.15,356.83 205.9,358 C206.65,359.17 207.52,364.17 208.5,372 C209.48,379.83 210.92,396.17 211.8,405 C212.68,413.83 212.8,426.67 213.8,425 C214.8,423.33 216.63,403.83 217.8,395 C218.97,386.17 219.98,377 220.8,372 C221.62,367 221.88,364.5 222.7,365 C223.52,365.5 224.7,367.5 225.7,375 C226.7,382.5 227.87,400.5 228.7,410 C229.53,419.5 230.03,429.5 230.7,432 C231.37,434.5 232.07,430.33 232.7,425 C233.33,419.67 233.9,408.33 234.5,400 C235.1,391.67 235.78,383.83 236.3,375 C236.82,366.17 237.17,349.17 237.6,347 C238.03,344.83 238.45,353.17 238.9,362 C239.35,370.83 239.92,387 240.3,400 C240.68,413 240.95,428.33 241.2,440 C241.45,451.67 241.57,463.08 241.8,470 C242.03,476.92 242.15,479.5 242.6,481.5 C243.05,482.8 243.9,482.58 244.5,482 C245.1,481.42 245.73,482.5 246.2,478 C246.67,473.5 246.93,463.83 247.3,455 C247.67,446.17 248.03,436.67 248.4,425 C248.77,413.33 249.13,398.33 249.5,385 C249.87,371.67 250.25,358.33 250.6,345 C250.95,331.67 251.27,314.67 251.6,305 C251.93,295.33 252.23,287 252.6,287 C252.97,287 253.35,293 253.8,305 C254.25,317 254.83,336.85 255.3,359 C255.77,381.15 256.17,420.37 256.6,437.9 C257.03,455.43 257.48,458.4 257.9,464.2 C258.32,470 258.72,470.65 259.1,472.7 C259.48,474.75 259.17,475.7 260.2,476.5 C261.23,477.3 263.95,476.83 265.3,477.5 C266.65,478.17 267.53,479.72 268.3,480.5 C269.07,481.28 269.63,481.92 269.9,482.2" fill="none" stroke="#989898" stroke-width="2.6" stroke-dasharray="5.4 2.2" stroke-linejoin="round"/><path d="M275.5,482.2 C275.75,481.67 276.5,479.77 277,479 C277.5,478.23 278,477.68 278.5,477.6 C279,477.52 279.5,477.73 280,478.5 C280.5,479.27 281.25,481.58 281.5,482.2" fill="none" stroke="#989898" stroke-width="2.6" stroke-dasharray="5.4 2.2" stroke-linejoin="round"/><path d="M295.3,482.2 C295.58,482.05 296.22,481.42 297,481.3 C297.78,481.18 297.83,481.43 300,481.5 C302.17,481.57 305.5,481.65 310,481.7 C314.5,481.75 324.17,481.78 327,481.8" fill="none" stroke="#989898" stroke-width="2.6" stroke-dasharray="5.4 2.2" stroke-linejoin="round"/><path d="M34.3,482.8 C36.92,482.8 45.72,482.8 50,482.8 C54.28,482.8 56.47,482.8 60,482.8 C63.53,482.8 69.15,482.8 71.2,482.8 C73.25,482.72 71.73,482.8 72.3,482.3 C72.87,481.57 73.88,480.32 74.6,478.4 C75.32,476.48 75.95,473.77 76.6,470.8 C77.25,467.83 77.87,463.33 78.5,460.6 C79.13,457.87 79.7,455.72 80.4,454.4 C81.1,453.08 81.97,452.42 82.7,452.7 C83.43,452.98 84.12,454.37 84.8,456.1 C85.48,457.83 86.05,460.65 86.8,463.1 C87.55,465.55 88.25,468.57 89.3,470.8 C90.35,473.03 91.62,475.13 93.1,476.5 C94.58,477.87 95.65,478.25 98.2,479 C100.75,479.75 104.15,480.57 108.4,481 C112.65,481.43 119.03,481.5 123.7,481.6 C128.37,481.7 132.85,481.65 136.4,481.6 C139.95,481.55 142.73,481.23 145,481.3 C147.27,481.37 148.33,482.3 150,482 C151.67,481.7 153.13,481.13 155,479.5 C156.87,477.87 159.37,475.55 161.2,472.2 C163.03,468.85 164.67,463.15 166,459.4 C167.33,455.65 168.13,454.25 169.2,449.7 C170.27,445.15 171.33,437.97 172.4,432.1 C173.47,426.23 174.8,419.03 175.6,414.5 C176.4,409.97 176.4,405.17 177.2,404.9 C178,404.63 179.6,410.77 180.4,412.9 C181.2,415.03 181.18,417.7 182,417.7 C182.82,417.7 184.22,415.83 185.3,412.9 C186.38,409.97 187.17,404.12 188.5,400.1 C189.83,396.08 192.22,392.98 193.3,388.8 C194.38,384.62 194.55,378.52 195,375 C195.45,371.48 195.58,366.87 196,367.7 C196.42,368.53 197.02,375.7 197.5,380 C197.98,384.3 198.4,393.17 198.9,393.5 C199.4,393.83 200,385.97 200.5,382 C201,378.03 201.32,374.7 201.9,369.7 C202.48,364.7 203.33,356.3 204,352 C204.67,347.7 205.32,343.9 205.9,343.9 C206.48,343.9 207.02,347.7 207.5,352 C207.98,356.3 208.08,360.8 208.8,369.7 C209.52,378.6 210.97,395.82 211.8,405.4 C212.63,414.98 213.13,426.43 213.8,427.2 C214.47,427.97 215.13,416.28 215.8,410 C216.47,403.72 216.97,397.87 217.8,389.5 C218.63,381.13 219.98,367.07 220.8,359.8 C221.62,352.53 222.13,347.2 222.7,345.9 C223.27,344.6 223.7,348.03 224.2,352 C224.7,355.97 224.95,360.13 225.7,369.7 C226.45,379.27 227.87,398.48 228.7,409.4 C229.53,420.32 230.03,431.23 230.7,435.2 C231.37,439.17 232.07,437.4 232.7,433.2 C233.33,429 233.9,419.7 234.5,410 C235.1,400.3 235.78,385.5 236.3,375 C236.82,364.5 237.17,349.17 237.6,347 C238.03,344.83 238.45,353.17 238.9,362 C239.35,370.83 239.92,387 240.3,400 C240.68,413 240.95,428.33 241.2,440 C241.45,451.67 241.57,463.08 241.8,470 C242.03,476.92 242.15,479.5 242.6,481.5 C243.05,482.8 243.9,482.58 244.5,482 C245.1,481.42 245.73,482.5 246.2,478 C246.67,473.5 246.93,463.83 247.3,455 C247.67,446.17 248.03,436.67 248.4,425 C248.77,413.33 249.13,398.33 249.5,385 C249.87,371.67 250.25,358.33 250.6,345 C250.95,331.67 251.27,314.67 251.6,305 C251.93,295.33 252.23,287 252.6,287 C252.97,287 253.35,293 253.8,305 C254.25,317 254.83,336.85 255.3,359 C255.77,381.15 256.17,420.37 256.6,437.9 C257.03,455.43 257.48,458.4 257.9,464.2 C258.32,470 258.72,470.65 259.1,472.7 C259.48,474.75 259.17,475.7 260.2,476.5 C261.23,477.3 263.95,476.83 265.3,477.5 C266.65,478.17 267.53,479.72 268.3,480.5 C269.07,481.28 269.63,481.92 269.9,482.2" fill="none" stroke="#000" stroke-width="2.2" stroke-dasharray="2.1 1.67" stroke-linejoin="round"/><path d="M275.5,482.2 C275.75,481.67 276.5,479.77 277,479 C277.5,478.23 278,477.68 278.5,477.6 C279,477.52 279.5,477.73 280,478.5 C280.5,479.27 281.25,481.58 281.5,482.2" fill="none" stroke="#000" stroke-width="2.2" stroke-dasharray="2.1 1.67" stroke-linejoin="round"/><path d="M295.3,482.2 C295.58,482.05 296.22,481.42 297,481.3 C297.78,481.18 297.83,481.43 300,481.5 C302.17,481.57 305.5,481.65 310,481.7 C314.5,481.75 324.17,481.78 327,481.8" fill="none" stroke="#000" stroke-width="2.2" stroke-dasharray="2.1 1.67" stroke-linejoin="round"/></g><text x="34.3" y="498.6" font-size="10" text-anchor="middle">5</text><text x="73.36" y="498.6" font-size="10" text-anchor="middle">7</text><text x="112.42" y="498.6" font-size="10" text-anchor="middle">9</text><text x="151.48" y="498.6" font-size="10" text-anchor="middle">11</text><text x="190.54" y="498.6" font-size="10" text-anchor="middle">13</text><text x="229.6" y="498.6" font-size="10" text-anchor="middle">15</text><text x="268.66" y="498.6" font-size="10" text-anchor="middle">17</text><text x="307.72" y="498.6" font-size="10" text-anchor="middle">19</text><text x="26.3" y="271.2" font-size="10" text-anchor="end">120</text><text x="26.3" y="307.1" font-size="10" text-anchor="end">100</text><text x="26.3" y="343.1" font-size="10" text-anchor="end">80</text><text x="26.3" y="378.8" font-size="10" text-anchor="end">60</text><text x="26.3" y="414.8" font-size="10" text-anchor="end">40</text><text x="26.3" y="450.6" font-size="10" text-anchor="end">20</text><text x="26.3" y="486" font-size="10" text-anchor="end">0</text><text transform="translate(7.2,375.5) rotate(-90)" font-size="10" text-anchor="middle" textLength="70" lengthAdjust="spacingAndGlyphs">Response (mAU)</text><text x="138.2" y="511.6" font-size="10" textLength="85" lengthAdjust="spacingAndGlyphs" xml:space="preserve">Retention time &#160;(min)</text><text transform="translate(40.6,279.3) scale(0.95,1)" font-size="16.5">c</text><text x="168.9" y="281.2" font-size="10" textLength="60.3" lengthAdjust="spacingAndGlyphs">5 kDa-0.1 kDa</text><line x1="301.5" y1="342.1" x2="322.7" y2="342.1" stroke="#000" stroke-width="2.6"/><text transform="translate(325.4,345.5) scale(0.97,1)" font-size="10">Gastric juice</text><line x1="301.5" y1="358.3" x2="322.7" y2="358.3" stroke="#868686" stroke-width="2.6"/><text transform="translate(325.4,361.7) scale(0.97,1)" font-size="10">20 min</text><line x1="301.5" y1="373.9" x2="322.7" y2="373.9" stroke="#000" stroke-width="2.6" stroke-dasharray="5.4 2.2"/><text transform="translate(325.4,377.3) scale(0.97,1)" font-size="10">60 min</text><line x1="301.5" y1="389.8" x2="322.7" y2="389.8" stroke="#989898" stroke-width="2.6" stroke-dasharray="5.4 2.2"/><text transform="translate(325.4,393.2) scale(0.97,1)" font-size="10">120 min</text><line x1="301.5" y1="405.6" x2="322.7" y2="405.6" stroke="#000" stroke-width="2.2" stroke-dasharray="2.1 1.67"/><text transform="translate(325.4,409) scale(0.97,1)" font-size="10">180 min</text></g>
<g><path d="M441.6,269.4V484.2H735.2" fill="none" stroke="#c4c4c4" stroke-width="1.4"/><line x1="570.8" y1="268.4" x2="570.8" y2="484.2" stroke="#000" stroke-width="2.2" stroke-dasharray="2.1 1.64"/><line x1="645.1" y1="268.4" x2="645.1" y2="484.2" stroke="#000" stroke-width="2.2" stroke-dasharray="2.1 1.64"/><clipPath id="cpd"><rect x="441.6" y="0" width="296.6" height="484.95"/></clipPath><g clip-path="url(#cpd)"><path d="M442.3,484.2 C445.25,484.2 454.47,484.2 460,484.2 C465.53,484.2 472.73,484.2 475.5,484.2 C478.27,484.12 476.13,484.2 476.6,483.7 C477.07,483.12 477.8,482.4 478.3,480.7 C478.8,479 479.15,476.48 479.6,473.5 C480.05,470.52 480.48,466.52 481,462.8 C481.52,459.08 482.12,454.62 482.7,451.2 C483.28,447.78 483.82,444.63 484.5,442.3 C485.18,439.97 486.05,437.5 486.8,437.2 C487.55,436.9 488.33,438.47 489,440.5 C489.67,442.53 490.2,446.13 490.8,449.4 C491.4,452.67 492.02,456.67 492.6,460.1 C493.18,463.53 493.63,467.17 494.3,470 C494.97,472.83 495.63,475.32 496.6,477.1 C497.57,478.88 498.47,479.82 500.1,480.7 C501.73,481.58 504.17,482.03 506.4,482.4 C508.63,482.77 511.12,482.88 513.5,482.9 C515.88,482.92 517.95,482.52 520.7,482.5 C523.45,482.48 526.18,482.83 530,482.8 C533.82,482.77 539.27,482.52 543.6,482.3 C547.93,482.08 552.2,481.77 556,481.5 C559.8,481.23 563.23,481.3 566.4,480.7 C569.57,480.1 572.18,478.97 575,477.9 C577.82,476.83 580.78,475.67 583.3,474.3 C585.82,472.93 588.2,471.23 590.1,469.7 C592,468.17 593.45,466.4 594.7,465.1 C595.95,463.8 596.72,462 597.6,461.9 C598.48,461.8 599.35,463.58 600,464.5 C600.65,465.42 600.48,466.92 601.5,467.4 C602.52,467.88 604.58,467.2 606.1,467.4 C607.62,467.6 609.27,468.22 610.6,468.6 C611.93,468.98 612.78,469.38 614.1,469.7 C615.42,470.02 616.7,470.18 618.5,470.5 C620.3,470.82 623.12,471.6 624.9,471.6 C626.68,471.6 627.77,470.85 629.2,470.5 C630.63,470.15 632.25,469.22 633.5,469.5 C634.75,469.78 635.8,472.38 636.7,472.2 C637.6,472.02 638.35,472.27 638.9,468.4 C639.45,464.53 639.57,455.4 640,449 C640.43,442.6 640.97,436.45 641.5,430 C642.03,423.55 642.57,417.17 643.2,410.3 C643.83,403.43 644.75,387.18 645.3,388.8 C645.85,390.42 646.13,409.8 646.5,420 C646.87,430.2 647.17,441 647.5,450 C647.83,459 648.12,468.58 648.5,474 C648.88,479.42 649.3,481.17 649.8,482.5 C650.3,483.83 650.97,484.2 651.5,482 C652.03,478.25 652.5,470.33 653,460 C653.5,449.67 654,432.5 654.5,420 C655,407.5 655.53,395.33 656,385 C656.47,374.67 656.88,364.53 657.3,358 C657.72,351.47 658.13,346.3 658.5,345.8 C658.87,345.3 659.18,348.47 659.5,355 C659.82,361.53 660.07,374.17 660.4,385 C660.73,395.83 661.13,409.07 661.5,420 C661.87,430.93 662.05,441.52 662.6,450.6 C663.15,459.68 663.9,469.07 664.8,474.5 C665.7,479.93 667.47,481.75 668,483.2" fill="none" stroke="#000" stroke-width="2.6" stroke-linejoin="round"/><path d="M676.5,483.2 C676.72,482.97 677.38,481.8 677.8,481.8 C678.22,481.8 678.8,482.97 679,483.2" fill="none" stroke="#000" stroke-width="2.6" stroke-linejoin="round"/><path d="M692.5,483.6 C692.92,483.5 693.75,483.07 695,483 C696.25,482.93 693.42,483.13 700,483.2 C706.58,483.27 728.75,483.37 734.5,483.4" fill="none" stroke="#000" stroke-width="2.6" stroke-linejoin="round"/><path d="M442.3,484.2 C445.25,484.2 454.47,484.2 460,484.2 C465.53,484.2 472.73,484.2 475.5,484.2 C478.27,484.12 476.13,484.2 476.6,483.7 C477.07,483.12 477.8,482.4 478.3,480.7 C478.8,479 479.15,476.48 479.6,473.5 C480.05,470.52 480.48,466.52 481,462.8 C481.52,459.08 482.12,454.62 482.7,451.2 C483.28,447.78 483.82,444.63 484.5,442.3 C485.18,439.97 486.05,437.5 486.8,437.2 C487.55,436.9 488.33,438.47 489,440.5 C489.67,442.53 490.2,446.13 490.8,449.4 C491.4,452.67 492.02,456.67 492.6,460.1 C493.18,463.53 493.63,467.17 494.3,470 C494.97,472.83 495.63,475.32 496.6,477.1 C497.57,478.88 498.47,479.82 500.1,480.7 C501.73,481.58 504.17,482.03 506.4,482.4 C508.63,482.77 511.12,483.03 513.5,482.9 C515.88,482.77 519.02,482.25 520.7,481.6 C522.38,480.95 522.88,480.93 523.6,479 C524.32,477.07 524.43,477.17 525,470 C525.57,462.83 526.47,449.33 527,436 C527.53,422.67 527.87,404 528.2,390 C528.53,376 528.77,360.83 529,352 C529.23,343.17 529.33,344.67 529.6,337 C529.87,329.33 530.35,314.67 530.6,306 C530.85,297.33 530.95,290.25 531.1,285 C531.25,279.75 531.33,275.5 531.5,274.5 C531.67,273.5 531.9,275.58 532.1,279 C532.3,282.42 532.52,290.5 532.7,295 C532.88,299.5 533.03,299 533.2,306 C533.37,313 533.53,328.83 533.7,337 C533.87,345.17 533.98,347 534.2,355 C534.42,363 534.73,377.83 535,385 C535.27,392.17 535.5,395.17 535.8,398 C536.1,400.83 536.47,400.67 536.8,402 C537.13,403.33 537.47,403.33 537.8,406 C538.13,408.67 538.43,413.17 538.8,418 C539.17,422.83 539.45,429.07 540,435 C540.55,440.93 541.5,449.55 542.1,453.6 C542.7,457.65 542.88,460.73 543.6,459.3 C544.32,457.87 545.65,448.1 546.4,445 C547.15,441.9 547.52,439.75 548.1,440.7 C548.68,441.65 549.23,446.65 549.9,450.7 C550.57,454.75 551.02,460.95 552.1,465 C553.18,469.05 554.97,473.1 556.4,475 C557.83,476.9 559.27,476.4 560.7,476.4 C562.13,476.4 563.8,476.9 565,475 C566.2,473.1 567.13,469.68 567.9,465 C568.67,460.32 569.13,455.23 569.6,446.9 C570.07,438.57 570.33,426.42 570.7,415 C571.07,403.58 571.42,389.23 571.8,378.4 C572.18,367.57 572.62,357.22 573,350 C573.38,342.78 573.72,335.93 574.1,335.1 C574.48,334.27 574.92,339.68 575.3,345 C575.68,350.32 575.92,355.72 576.4,367 C576.88,378.28 577.63,400.53 578.2,412.7 C578.77,424.87 579.33,434.95 579.8,440 C580.27,445.05 580.58,446.33 581,443 C581.42,439.67 581.92,425 582.3,420 C582.68,415 582.77,414.6 583.3,413 C583.83,411.4 584.75,411.6 585.5,410.4 C586.25,409.2 587.13,408.87 587.8,405.8 C588.47,402.73 588.93,396.97 589.5,392 C590.07,387.03 590.7,376 591.2,376 C591.7,376 592,383.33 592.5,392 C593,400.67 593.53,426.67 594.2,428 C594.87,429.33 595.78,410.5 596.5,400 C597.22,389.5 597.85,374 598.5,365 C599.15,356 599.77,345.17 600.4,346 C601.03,346.83 601.55,359.27 602.3,370 C603.05,380.73 604.2,405.4 604.9,410.4 C605.6,415.4 605.93,402.85 606.5,400 C607.07,397.15 607.63,391.63 608.3,393.3 C608.97,394.97 609.65,405.07 610.5,410 C611.35,414.93 612.4,424.57 613.4,422.9 C614.4,421.23 615.52,406.43 616.5,400 C617.48,393.57 618.55,385.13 619.3,384.3 C620.05,383.47 620.42,390.67 621,395 C621.58,399.33 621.97,403.8 622.8,410.3 C623.63,416.8 624.93,431.85 626,434 C627.07,436.15 628.13,426.97 629.2,423.2 C630.27,419.43 631.32,409.97 632.4,411.4 C633.48,412.83 634.62,424.82 635.7,431.8 C636.78,438.78 638.02,451.87 638.9,453.3 C639.78,454.73 640.28,447.57 641,440.4 C641.72,433.23 642.48,418.9 643.2,410.3 C643.92,401.7 644.75,387.18 645.3,388.8 C645.85,390.42 646.13,409.8 646.5,420 C646.87,430.2 647.17,441 647.5,450 C647.83,459 648.12,468.58 648.5,474 C648.88,479.42 649.3,481.17 649.8,482.5 C650.3,483.83 650.97,484.2 651.5,482 C652.03,478.25 652.5,470.33 653,460 C653.5,449.67 654,432.5 654.5,420 C655,407.5 655.53,395.33 656,385 C656.47,374.67 656.88,364.53 657.3,358 C657.72,351.47 658.13,346.3 658.5,345.8 C658.87,345.3 659.18,348.47 659.5,355 C659.82,361.53 660.07,374.17 660.4,385 C660.73,395.83 661.13,409.07 661.5,420 C661.87,430.93 662.05,441.52 662.6,450.6 C663.15,459.68 663.9,469.07 664.8,474.5 C665.7,479.93 667.47,481.75 668,483.2" fill="none" stroke="#868686" stroke-width="2.6" stroke-linejoin="round"/><path d="M676.5,483.2 C676.72,482.97 677.38,481.8 677.8,481.8 C678.22,481.8 678.8,482.97 679,483.2" fill="none" stroke="#868686" stroke-width="2.6" stroke-linejoin="round"/><path d="M692.5,483.6 C692.92,483.5 693.75,483.07 695,483 C696.25,482.93 693.42,483.13 700,483.2 C706.58,483.27 728.75,483.37 734.5,483.4" fill="none" stroke="#868686" stroke-width="2.6" stroke-linejoin="round"/><path d="M442.3,484.2 C445.25,484.2 454.47,484.2 460,484.2 C465.53,484.2 472.73,484.2 475.5,484.2 C478.27,484.12 476.02,484.2 476.6,483.7 C477.18,483.12 478.38,482.4 479,480.7 C479.62,479 479.85,476.48 480.3,473.5 C480.75,470.52 481.18,466.52 481.7,462.8 C482.22,459.08 482.82,454.62 483.4,451.2 C483.98,447.78 484.52,444.63 485.2,442.3 C485.88,439.97 486.75,437.5 487.5,437.2 C488.25,436.9 489.03,438.47 489.7,440.5 C490.37,442.53 490.9,446.13 491.5,449.4 C492.1,452.67 492.72,456.67 493.3,460.1 C493.88,463.53 494.33,467.17 495,470 C495.67,472.83 496.33,475.32 497.3,477.1 C498.27,478.88 499.17,479.82 500.8,480.7 C502.43,481.58 504.87,482.03 507.1,482.4 C509.33,482.77 511.82,483.03 514.2,482.9 C516.58,482.77 519.72,482.25 521.4,481.6 C523.08,480.95 523.58,480.93 524.3,479 C525.02,477.07 525.13,477.17 525.7,470 C526.27,462.83 527.17,449.33 527.7,436 C528.23,422.67 528.57,404 528.9,390 C529.23,376 529.47,360.83 529.7,352 C529.93,343.17 530.03,344.67 530.3,337 C530.57,329.33 531.05,314.67 531.3,306 C531.55,297.33 531.65,290.25 531.8,285 C531.95,279.75 532.03,275.5 532.2,274.5 C532.37,273.5 532.6,275.58 532.8,279 C533,282.42 533.22,290.5 533.4,295 C533.58,299.5 533.73,299 533.9,306 C534.07,313 534.23,328.83 534.4,337 C534.57,345.17 534.68,347 534.9,355 C535.12,363 535.43,377.83 535.7,385 C535.97,392.17 536.2,395.17 536.5,398 C536.8,400.83 537.17,400.67 537.5,402 C537.83,403.33 538.17,403.33 538.5,406 C538.83,408.67 539.13,413.17 539.5,418 C539.87,422.83 540.15,429.07 540.7,435 C541.25,440.93 542.2,449.55 542.8,453.6 C543.4,457.65 543.58,460.73 544.3,459.3 C545.02,457.87 546.35,448.1 547.1,445 C547.85,441.9 548.22,439.75 548.8,440.7 C549.38,441.65 549.93,446.65 550.6,450.7 C551.27,454.75 551.72,460.95 552.8,465 C553.88,469.05 555.67,473.1 557.1,475 C558.53,476.9 559.97,476.4 561.4,476.4 C562.83,476.4 564.5,476.9 565.7,475 C566.9,473.1 567.83,469.68 568.6,465 C569.37,460.32 569.83,455.23 570.3,446.9 C570.77,438.57 571.03,426.42 571.4,415 C571.77,403.58 572.12,389.23 572.5,378.4 C572.88,367.57 573.32,357.22 573.7,350 C574.08,342.78 574.42,335.93 574.8,335.1 C575.18,334.27 575.62,339.68 576,345 C576.38,350.32 576.62,355.72 577.1,367 C577.58,378.28 578.33,400.15 578.9,412.7 C579.47,425.25 580.03,436.6 580.5,442.3 C580.97,448 581.25,447.95 581.7,446.9 C582.15,445.85 582.63,439.42 583.2,436 C583.77,432.58 584.4,427.73 585.1,426.4 C585.8,425.07 586.67,432.4 587.4,428 C588.13,423.6 588.95,407.17 589.5,400 C590.05,392.83 590.3,389.17 590.7,385 C591.1,380.83 591.48,374.17 591.9,375 C592.32,375.83 592.7,381.07 593.2,390 C593.7,398.93 594.23,426.93 594.9,428.6 C595.57,430.27 596.48,410.6 597.2,400 C597.92,389.4 598.55,374.1 599.2,365 C599.85,355.9 600.47,344.57 601.1,345.4 C601.73,346.23 602.25,359.17 603,370 C603.75,380.83 604.9,405.4 605.6,410.4 C606.3,415.4 606.63,402.85 607.2,400 C607.77,397.15 608.33,391.63 609,393.3 C609.67,394.97 610.35,405.07 611.2,410 C612.05,414.93 613.1,424.57 614.1,422.9 C615.1,421.23 616.22,406.43 617.2,400 C618.18,393.57 619.25,385.13 620,384.3 C620.75,383.47 621.12,390.67 621.7,395 C622.28,399.33 622.67,403.8 623.5,410.3 C624.33,416.8 625.63,431.85 626.7,434 C627.77,436.15 628.83,426.97 629.9,423.2 C630.97,419.43 632.02,409.97 633.1,411.4 C634.18,412.83 635.32,424.82 636.4,431.8 C637.48,438.78 638.72,451.87 639.6,453.3 C640.48,454.73 640.98,447.57 641.7,440.4 C642.42,433.23 643.3,418.9 643.9,410.3 C644.5,401.7 644.87,387.18 645.3,388.8 C645.73,390.42 646.13,409.8 646.5,420 C646.87,430.2 647.17,441 647.5,450 C647.83,459 648.12,468.58 648.5,474 C648.88,479.42 649.3,481.17 649.8,482.5 C650.3,483.83 650.97,484.2 651.5,482 C652.03,478.25 652.5,470.33 653,460 C653.5,449.67 654,432.5 654.5,420 C655,407.5 655.53,395.33 656,385 C656.47,374.67 656.88,364.53 657.3,358 C657.72,351.47 658.13,346.3 658.5,345.8 C658.87,345.3 659.18,348.47 659.5,355 C659.82,361.53 660.07,374.17 660.4,385 C660.73,395.83 661.13,409.07 661.5,420 C661.87,430.93 662.05,441.52 662.6,450.6 C663.15,459.68 663.9,469.07 664.8,474.5 C665.7,479.93 667.47,481.75 668,483.2" fill="none" stroke="#000" stroke-width="2.6" stroke-dasharray="5.4 2.2" stroke-linejoin="round"/><path d="M676.5,483.2 C676.72,482.97 677.38,481.8 677.8,481.8 C678.22,481.8 678.8,482.97 679,483.2" fill="none" stroke="#000" stroke-width="2.6" stroke-dasharray="5.4 2.2" stroke-linejoin="round"/><path d="M692.5,483.6 C692.92,483.5 693.75,483.07 695,483 C696.25,482.93 693.42,483.13 700,483.2 C706.58,483.27 728.75,483.37 734.5,483.4" fill="none" stroke="#000" stroke-width="2.6" stroke-dasharray="5.4 2.2" stroke-linejoin="round"/><path d="M442.3,484.2 C445.25,484.2 454.47,484.2 460,484.2 C465.53,484.2 472.73,484.2 475.5,484.2 C478.27,484.12 476.2,484.18 476.6,483.7 C477,483.22 477.47,482.9 477.9,481.3 C478.33,479.7 478.75,477.08 479.2,474.1 C479.65,471.12 480.08,467.12 480.6,463.4 C481.12,459.68 481.72,455.22 482.3,451.8 C482.88,448.38 483.42,445.23 484.1,442.9 C484.78,440.57 485.65,438.1 486.4,437.8 C487.15,437.5 487.93,439.07 488.6,441.1 C489.27,443.13 489.8,446.73 490.4,450 C491,453.27 491.62,457.27 492.2,460.7 C492.78,464.13 493.23,467.77 493.9,470.6 C494.57,473.43 495.23,475.92 496.2,477.7 C497.17,479.48 498.07,480.42 499.7,481.3 C501.33,482.18 503.77,482.63 506,483 C508.23,483.37 510.72,483.63 513.1,483.5 C515.48,483.37 518.62,482.85 520.3,482.2 C521.98,481.55 522.48,481.53 523.2,479.6 C523.92,477.67 524.03,477.77 524.6,470.6 C525.17,463.43 526.07,449.93 526.6,436.6 C527.13,423.27 527.47,404.6 527.8,390.6 C528.13,376.6 528.37,361.43 528.6,352.6 C528.83,343.77 528.93,345.27 529.2,337.6 C529.47,329.93 529.95,315.27 530.2,306.6 C530.45,297.93 530.55,290.85 530.7,285.6 C530.85,280.35 530.93,276.1 531.1,275.1 C531.27,274.1 531.5,276.18 531.7,279.6 C531.9,283.02 532.12,291.1 532.3,295.6 C532.48,300.1 532.63,299.6 532.8,306.6 C532.97,313.6 533.13,329.43 533.3,337.6 C533.47,345.77 533.58,347.6 533.8,355.6 C534.02,363.6 534.33,378.43 534.6,385.6 C534.87,392.77 535.1,395.77 535.4,398.6 C535.7,401.43 536.07,401.27 536.4,402.6 C536.73,403.93 537.07,403.93 537.4,406.6 C537.73,409.27 538.03,413.77 538.4,418.6 C538.77,423.43 539.05,429.67 539.6,435.6 C540.15,441.53 541.1,450.15 541.7,454.2 C542.3,458.25 542.48,461.33 543.2,459.9 C543.92,458.47 545.25,448.7 546,445.6 C546.75,442.5 547.12,440.35 547.7,441.3 C548.28,442.25 548.83,447.25 549.5,451.3 C550.17,455.35 550.62,461.55 551.7,465.6 C552.78,469.65 554.57,473.7 556,475.6 C557.43,477.5 558.87,477 560.3,477 C561.73,477 563.4,477.5 564.6,475.6 C565.8,473.7 566.73,470.28 567.5,465.6 C568.27,460.92 568.73,455.83 569.2,447.5 C569.67,439.17 569.93,427.02 570.3,415.6 C570.67,404.18 571.02,389.83 571.4,379 C571.78,368.17 572.22,357.82 572.6,350.6 C572.98,343.38 573.32,336.53 573.7,335.7 C574.08,334.87 574.52,340.28 574.9,345.6 C575.28,350.92 575.52,356.32 576,367.6 C576.48,378.88 577.23,400.75 577.8,413.3 C578.37,425.85 578.93,437.2 579.4,442.9 C579.87,448.6 580.15,448.55 580.6,447.5 C581.05,446.45 581.53,440.02 582.1,436.6 C582.67,433.18 583.3,428.33 584,427 C584.7,425.67 585.57,433 586.3,428.6 C587.03,424.2 587.85,407.77 588.4,400.6 C588.95,393.43 589.2,389.77 589.6,385.6 C590,381.43 590.38,374.77 590.8,375.6 C591.22,376.43 591.6,381.67 592.1,390.6 C592.6,399.53 593.13,427.53 593.8,429.2 C594.47,430.87 595.38,411.2 596.1,400.6 C596.82,390 597.45,374.7 598.1,365.6 C598.75,356.5 599.37,345.17 600,346 C600.63,346.83 601.15,359.77 601.9,370.6 C602.65,381.43 603.8,406 604.5,411 C605.2,416 605.53,403.45 606.1,400.6 C606.67,397.75 607.23,392.23 607.9,393.9 C608.57,395.57 609.25,405.67 610.1,410.6 C610.95,415.53 612,425.17 613,423.5 C614,421.83 615.12,407.03 616.1,400.6 C617.08,394.17 618.15,385.73 618.9,384.9 C619.65,384.07 620.02,391.27 620.6,395.6 C621.18,399.93 621.57,404.4 622.4,410.9 C623.23,417.4 624.53,432.45 625.6,434.6 C626.67,436.75 627.73,427.57 628.8,423.8 C629.87,420.03 630.92,410.57 632,412 C633.08,413.43 634.22,425.42 635.3,432.4 C636.38,439.38 637.62,452.47 638.5,453.9 C639.38,455.33 639.88,448.17 640.6,441 C641.32,433.83 642.02,419.6 642.8,410.9 C643.58,402.2 644.68,387.28 645.3,388.8 C645.92,390.32 646.13,409.8 646.5,420 C646.87,430.2 647.17,441 647.5,450 C647.83,459 648.12,468.58 648.5,474 C648.88,479.42 649.3,481.17 649.8,482.5 C650.3,483.83 650.97,484.2 651.5,482 C652.03,478.25 652.5,470.33 653,460 C653.5,449.67 654,432.5 654.5,420 C655,407.5 655.53,395.33 656,385 C656.47,374.67 656.88,364.53 657.3,358 C657.72,351.47 658.13,346.3 658.5,345.8 C658.87,345.3 659.18,348.47 659.5,355 C659.82,361.53 660.07,374.17 660.4,385 C660.73,395.83 661.13,409.07 661.5,420 C661.87,430.93 662.05,441.52 662.6,450.6 C663.15,459.68 663.9,469.07 664.8,474.5 C665.7,479.93 667.47,481.75 668,483.2" fill="none" stroke="#989898" stroke-width="2.6" stroke-dasharray="5.4 2.2" stroke-linejoin="round"/><path d="M676.5,483.2 C676.72,482.97 677.38,481.8 677.8,481.8 C678.22,481.8 678.8,482.97 679,483.2" fill="none" stroke="#989898" stroke-width="2.6" stroke-dasharray="5.4 2.2" stroke-linejoin="round"/><path d="M692.5,483.6 C692.92,483.5 693.75,483.07 695,483 C696.25,482.93 693.42,483.13 700,483.2 C706.58,483.27 728.75,483.37 734.5,483.4" fill="none" stroke="#989898" stroke-width="2.6" stroke-dasharray="5.4 2.2" stroke-linejoin="round"/><path d="M442.3,484.2 C445.25,484.2 454.47,484.2 460,484.2 C465.53,484.2 472.73,484.2 475.5,484.2 C478.27,484.12 476.13,484.2 476.6,483.7 C477.07,483.12 477.8,482.4 478.3,480.7 C478.8,479 479.15,476.48 479.6,473.5 C480.05,470.52 480.48,466.52 481,462.8 C481.52,459.08 482.12,454.62 482.7,451.2 C483.28,447.78 483.82,444.63 484.5,442.3 C485.18,439.97 486.05,437.5 486.8,437.2 C487.55,436.9 488.33,438.47 489,440.5 C489.67,442.53 490.2,446.13 490.8,449.4 C491.4,452.67 492.02,456.67 492.6,460.1 C493.18,463.53 493.63,467.17 494.3,470 C494.97,472.83 495.63,475.32 496.6,477.1 C497.57,478.88 498.47,479.82 500.1,480.7 C501.73,481.58 504.17,482.03 506.4,482.4 C508.63,482.77 511.12,483.03 513.5,482.9 C515.88,482.77 519.02,482.25 520.7,481.6 C522.38,480.95 522.88,480.93 523.6,479 C524.32,477.07 524.43,477.17 525,470 C525.57,462.83 526.47,449.33 527,436 C527.53,422.67 527.87,404 528.2,390 C528.53,376 528.77,360.83 529,352 C529.23,343.17 529.33,344.67 529.6,337 C529.87,329.33 530.35,314.67 530.6,306 C530.85,297.33 530.95,290.25 531.1,285 C531.25,279.75 531.33,275.5 531.5,274.5 C531.67,273.5 531.9,275.58 532.1,279 C532.3,282.42 532.52,290.5 532.7,295 C532.88,299.5 533.03,299 533.2,306 C533.37,313 533.53,328.83 533.7,337 C533.87,345.17 533.98,347 534.2,355 C534.42,363 534.73,377.83 535,385 C535.27,392.17 535.5,395.17 535.8,398 C536.1,400.83 536.47,400.67 536.8,402 C537.13,403.33 537.47,403.33 537.8,406 C538.13,408.67 538.43,413.17 538.8,418 C539.17,422.83 539.45,429.07 540,435 C540.55,440.93 541.5,449.55 542.1,453.6 C542.7,457.65 542.88,460.73 543.6,459.3 C544.32,457.87 545.65,448.1 546.4,445 C547.15,441.9 547.52,439.75 548.1,440.7 C548.68,441.65 549.23,446.65 549.9,450.7 C550.57,454.75 551.02,460.95 552.1,465 C553.18,469.05 554.97,473.1 556.4,475 C557.83,476.9 559.27,476.4 560.7,476.4 C562.13,476.4 563.8,476.9 565,475 C566.2,473.1 567.13,469.68 567.9,465 C568.67,460.32 569.13,455.23 569.6,446.9 C570.07,438.57 570.33,426.42 570.7,415 C571.07,403.58 571.42,389.23 571.8,378.4 C572.18,367.57 572.62,357.22 573,350 C573.38,342.78 573.72,335.93 574.1,335.1 C574.48,334.27 574.92,339.68 575.3,345 C575.68,350.32 575.92,355.72 576.4,367 C576.88,378.28 577.63,400.15 578.2,412.7 C578.77,425.25 579.33,436.6 579.8,442.3 C580.27,448 580.55,447.95 581,446.9 C581.45,445.85 581.93,439.42 582.5,436 C583.07,432.58 583.7,427.73 584.4,426.4 C585.1,425.07 585.97,432.4 586.7,428 C587.43,423.6 588.25,407.17 588.8,400 C589.35,392.83 589.6,389.17 590,385 C590.4,380.83 590.78,374.17 591.2,375 C591.62,375.83 592,381.07 592.5,390 C593,398.93 593.53,426.93 594.2,428.6 C594.87,430.27 595.78,410.6 596.5,400 C597.22,389.4 597.85,374.1 598.5,365 C599.15,355.9 599.77,344.57 600.4,345.4 C601.03,346.23 601.55,359.17 602.3,370 C603.05,380.83 604.2,405.4 604.9,410.4 C605.6,415.4 605.93,402.85 606.5,400 C607.07,397.15 607.63,391.63 608.3,393.3 C608.97,394.97 609.65,405.07 610.5,410 C611.35,414.93 612.4,424.57 613.4,422.9 C614.4,421.23 615.52,406.43 616.5,400 C617.48,393.57 618.55,385.13 619.3,384.3 C620.05,383.47 620.42,390.67 621,395 C621.58,399.33 621.97,403.8 622.8,410.3 C623.63,416.8 624.93,431.85 626,434 C627.07,436.15 628.13,426.97 629.2,423.2 C630.27,419.43 631.32,409.97 632.4,411.4 C633.48,412.83 634.62,424.82 635.7,431.8 C636.78,438.78 638.02,451.87 638.9,453.3 C639.78,454.73 640.28,447.57 641,440.4 C641.72,433.23 642.48,418.9 643.2,410.3 C643.92,401.7 644.75,387.18 645.3,388.8 C645.85,390.42 646.13,409.8 646.5,420 C646.87,430.2 647.17,441 647.5,450 C647.83,459 648.12,468.58 648.5,474 C648.88,479.42 649.3,481.17 649.8,482.5 C650.3,483.83 650.97,484.2 651.5,482 C652.03,478.25 652.5,470.33 653,460 C653.5,449.67 654,432.5 654.5,420 C655,407.5 655.53,395.33 656,385 C656.47,374.67 656.88,364.53 657.3,358 C657.72,351.47 658.13,346.3 658.5,345.8 C658.87,345.3 659.18,348.47 659.5,355 C659.82,361.53 660.07,374.17 660.4,385 C660.73,395.83 661.13,409.07 661.5,420 C661.87,430.93 662.05,441.52 662.6,450.6 C663.15,459.68 663.9,469.07 664.8,474.5 C665.7,479.93 667.47,481.75 668,483.2" fill="none" stroke="#000" stroke-width="2.2" stroke-dasharray="2.1 1.67" stroke-linejoin="round"/><path d="M676.5,483.2 C676.72,482.97 677.38,481.8 677.8,481.8 C678.22,481.8 678.8,482.97 679,483.2" fill="none" stroke="#000" stroke-width="2.2" stroke-dasharray="2.1 1.67" stroke-linejoin="round"/><path d="M692.5,483.6 C692.92,483.5 693.75,483.07 695,483 C696.25,482.93 693.42,483.13 700,483.2 C706.58,483.27 728.75,483.37 734.5,483.4" fill="none" stroke="#000" stroke-width="2.2" stroke-dasharray="2.1 1.67" stroke-linejoin="round"/></g><text x="442.3" y="500.2" font-size="10" text-anchor="middle">5</text><text x="481.36" y="500.2" font-size="10" text-anchor="middle">7</text><text x="520.42" y="500.2" font-size="10" text-anchor="middle">9</text><text x="559.48" y="500.2" font-size="10" text-anchor="middle">11</text><text x="598.54" y="500.2" font-size="10" text-anchor="middle">13</text><text x="637.6" y="500.2" font-size="10" text-anchor="middle">15</text><text x="676.66" y="500.2" font-size="10" text-anchor="middle">17</text><text x="715.72" y="500.2" font-size="10" text-anchor="middle">19</text><text x="434.9" y="272.9" font-size="10" text-anchor="end">120</text><text x="434.9" y="308.9" font-size="10" text-anchor="end">100</text><text x="434.9" y="344.7" font-size="10" text-anchor="end">80</text><text x="434.9" y="380.7" font-size="10" text-anchor="end">60</text><text x="434.9" y="416.4" font-size="10" text-anchor="end">40</text><text x="434.9" y="452.2" font-size="10" text-anchor="end">20</text><text x="434.9" y="487.7" font-size="10" text-anchor="end">0</text><text transform="translate(415,377.3) rotate(-90)" font-size="10" text-anchor="middle" textLength="70" lengthAdjust="spacingAndGlyphs">Response (mAU)</text><text x="546.8" y="513.4" font-size="10" textLength="85" lengthAdjust="spacingAndGlyphs" xml:space="preserve">Retention time &#160;(min)</text><text transform="translate(448.4,279.4) scale(0.95,1)" font-size="16.5">d</text><text x="577.2" y="282.5" font-size="10" textLength="60.8" lengthAdjust="spacingAndGlyphs">5 kDa-0.1 kDa</text><line x1="707.1" y1="343.6" x2="729" y2="343.6" stroke="#000" stroke-width="2.6"/><text transform="translate(731.6,347) scale(0.97,1)" font-size="10">Gastric juice</text><line x1="707.1" y1="359.4" x2="729" y2="359.4" stroke="#868686" stroke-width="2.6"/><text transform="translate(731.6,362.8) scale(0.97,1)" font-size="10">20 min</text><line x1="707.1" y1="374.9" x2="729" y2="374.9" stroke="#000" stroke-width="2.6" stroke-dasharray="5.4 2.2"/><text transform="translate(731.6,378.3) scale(0.97,1)" font-size="10">60 min</text><line x1="707.1" y1="390.8" x2="729" y2="390.8" stroke="#989898" stroke-width="2.6" stroke-dasharray="5.4 2.2"/><text transform="translate(731.6,394.2) scale(0.97,1)" font-size="10">120 min</text><line x1="707.1" y1="406.6" x2="729" y2="406.6" stroke="#000" stroke-width="2.2" stroke-dasharray="2.1 1.67"/><text transform="translate(731.6,410) scale(0.97,1)" font-size="10">180 min</text></g>
<g><path d="M233.7,534.5V749.7H527.2" fill="none" stroke="#c4c4c4" stroke-width="1.4"/><line x1="362.4" y1="533.5" x2="362.4" y2="749.7" stroke="#000" stroke-width="2.2" stroke-dasharray="2.1 1.64"/><line x1="437" y1="533.5" x2="437" y2="749.7" stroke="#000" stroke-width="2.2" stroke-dasharray="2.1 1.64"/><clipPath id="cpe"><rect x="233.7" y="0" width="296.5" height="750.45"/></clipPath><g clip-path="url(#cpe)"><path d="M234.2,749.7 C238.5,749.7 253.7,749.7 260,749.7 C266.3,749.7 269.62,749.7 272,749.7 C274.38,749.15 273.62,748.13 274.3,746.4 C274.98,744.67 275.52,741.98 276.1,739.3 C276.68,736.62 277.22,733.13 277.8,730.3 C278.38,727.47 278.92,724.23 279.6,722.3 C280.28,720.37 281.23,719 281.9,718.7 C282.57,718.4 283.08,719.15 283.6,720.5 C284.12,721.85 284.47,724.57 285,726.8 C285.53,729.03 286.07,731.68 286.8,733.9 C287.53,736.12 288.37,738.32 289.4,740.1 C290.43,741.88 291.5,743.4 293,744.6 C294.5,745.8 295.72,746.63 298.4,747.3 C301.08,747.97 305.5,748.27 309.1,748.6 C312.7,748.93 314.37,749.25 320,749.3 C325.63,749.35 337.8,749.22 342.9,748.9 C348,748.58 348.3,748.03 350.6,747.4 C352.9,746.77 354.92,745.87 356.7,745.1 C358.48,744.33 360.03,743.52 361.3,742.8 C362.57,742.08 363.28,741.37 364.3,740.8 C365.32,740.23 366.12,739.95 367.4,739.4 C368.68,738.85 370.47,738.33 372,737.5 C373.53,736.67 375.45,735.08 376.6,734.4 C377.75,733.72 378,733.97 378.9,733.4 C379.8,732.83 380.8,731.9 382,731 C383.2,730.1 384.72,729.02 386.1,728 C387.48,726.98 389.23,725.07 390.3,724.9 C391.37,724.73 391.82,726.48 392.5,727 C393.18,727.52 393.38,727.92 394.4,728 C395.42,728.08 396.97,726.82 398.6,727.5 C400.23,728.18 402.23,730.82 404.2,732.1 C406.17,733.38 408.32,734.33 410.4,735.2 C412.48,736.07 414.78,737.3 416.7,737.3 C418.62,737.3 420.18,735.37 421.9,735.2 C423.62,735.03 425.73,736.67 427,736.3 C428.27,735.93 428.92,734.88 429.5,733 C430.08,731.12 430.22,727.83 430.5,725 C430.78,722.17 430.78,721.83 431.2,716 C431.62,710.17 432.37,701 433,690 C433.63,679 434.42,660.33 435,650 C435.58,639.67 436.1,632.78 436.5,628 C436.9,623.22 437.1,619.3 437.4,621.3 C437.7,623.3 438.03,631.38 438.3,640 C438.57,648.62 438.77,661.5 439,673 C439.23,684.5 439.45,698.67 439.7,709 C439.95,719.33 440.2,728.42 440.5,735 C440.8,741.58 440.92,746.17 441.5,748.5 C442.08,749.7 443.28,749.7 444,749 C444.72,748.25 445.3,749.67 445.8,744 C446.3,738.33 446.58,729 447,715 C447.42,701 447.87,677.5 448.3,660 C448.73,642.5 449.22,624.17 449.6,610 C449.98,595.83 450.3,583.67 450.6,575 C450.9,566.33 451.18,561.67 451.4,558 C451.62,554.33 451.72,553 451.9,553 C452.08,553 452.27,552.67 452.5,558 C452.73,563.33 452.95,569.67 453.3,585 C453.65,600.33 454.15,629.17 454.6,650 C455.05,670.83 455.47,695.15 456,710 C456.53,724.85 457.07,733.5 457.8,739.1 C458.53,744.7 459.12,742.85 460.4,743.6 C461.68,744.35 464.23,743.07 465.5,743.6 C466.77,744.13 467.33,745.9 468,746.8 C468.67,747.7 469.25,748.63 469.5,749" fill="none" stroke="#000" stroke-width="2.6" stroke-linejoin="round"/><path d="M476.5,749 C476.9,748.1 478.18,743.6 478.9,743.6 C479.62,743.6 480.48,748.1 480.8,749" fill="none" stroke="#000" stroke-width="2.6" stroke-linejoin="round"/><path d="M494.8,749 C495.17,748.8 496.13,748.03 497,747.8 C497.87,747.57 497.83,747.53 500,747.6 C502.17,747.67 505.57,748.02 510,748.2 C514.43,748.38 523.83,748.62 526.6,748.7" fill="none" stroke="#000" stroke-width="2.6" stroke-linejoin="round"/><path d="M234.2,749.7 C238.5,749.7 253.7,749.7 260,749.7 C266.3,749.7 269.32,749.7 272,749.7 C274.68,749.6 274.98,749.7 276.1,749.1 C277.22,748.25 277.88,746.53 278.7,744.6 C279.52,742.67 280.33,739.73 281,737.5 C281.67,735.27 282.12,732.4 282.7,731.2 C283.28,730 283.9,729.85 284.5,730.3 C285.1,730.75 285.63,732.7 286.3,733.9 C286.97,735.1 287.53,736.02 288.5,737.5 C289.47,738.98 290.6,741.32 292.1,742.8 C293.6,744.28 295.42,745.5 297.5,746.4 C299.58,747.3 300.85,747.77 304.6,748.2 C308.35,748.63 313.62,748.88 320,749 C326.38,749.12 337.8,749.17 342.9,748.9 C348,748.63 348.3,748.03 350.6,747.4 C352.9,746.77 354.92,745.87 356.7,745.1 C358.48,744.33 360.03,743.68 361.3,742.8 C362.57,741.92 363.43,740.85 364.3,739.8 C365.17,738.75 365.73,737.53 366.5,736.5 C367.27,735.47 367.98,735.22 368.9,733.6 C369.82,731.98 371.1,729.08 372,726.8 C372.9,724.52 373.53,720.17 374.3,719.9 C375.07,719.63 375.83,724.05 376.6,725.2 C377.37,726.35 378,727.2 378.9,726.8 C379.8,726.4 380.8,723.82 382,722.8 C383.2,721.78 384.72,722.78 386.1,720.7 C387.48,718.62 388.73,712.9 390.3,710.3 C391.87,707.7 393.95,705.1 395.5,705.1 C397.05,705.1 398.15,708.73 399.6,710.3 C401.05,711.87 402.4,713.45 404.2,714.5 C406,715.55 408.32,715.73 410.4,716.6 C412.48,717.47 414.78,719.02 416.7,719.7 C418.62,720.38 420.35,719.48 421.9,720.7 C423.45,721.92 424.97,724.92 426,727 C427.03,729.08 427.4,733.37 428.1,733.2 C428.8,733.03 429.68,728.87 430.2,726 C430.72,723.13 430.73,722 431.2,716 C431.67,710 432.37,701 433,690 C433.63,679 434.42,660.33 435,650 C435.58,639.67 436.1,632.78 436.5,628 C436.9,623.22 437.1,619.3 437.4,621.3 C437.7,623.3 438.03,631.38 438.3,640 C438.57,648.62 438.77,661.5 439,673 C439.23,684.5 439.45,698.67 439.7,709 C439.95,719.33 440.2,728.42 440.5,735 C440.8,741.58 440.92,746.17 441.5,748.5 C442.08,749.7 443.28,749.7 444,749 C444.72,748.25 445.3,749.67 445.8,744 C446.3,738.33 446.58,729 447,715 C447.42,701 447.87,677.5 448.3,660 C448.73,642.5 449.22,624.17 449.6,610 C449.98,595.83 450.3,583.67 450.6,575 C450.9,566.33 451.18,561.67 451.4,558 C451.62,554.33 451.72,553 451.9,553 C452.08,553 452.27,552.67 452.5,558 C452.73,563.33 452.95,569.67 453.3,585 C453.65,600.33 454.15,629.17 454.6,650 C455.05,670.83 455.47,695.15 456,710 C456.53,724.85 457.07,733.5 457.8,739.1 C458.53,744.7 459.12,742.85 460.4,743.6 C461.68,744.35 464.23,743.07 465.5,743.6 C466.77,744.13 467.33,745.9 468,746.8 C468.67,747.7 469.25,748.63 469.5,749" fill="none" stroke="#868686" stroke-width="2.6" stroke-linejoin="round"/><path d="M476.5,749 C476.9,748.1 478.18,743.6 478.9,743.6 C479.62,743.6 480.48,748.1 480.8,749" fill="none" stroke="#868686" stroke-width="2.6" stroke-linejoin="round"/><path d="M494.8,749 C495.17,748.8 496.13,748.03 497,747.8 C497.87,747.57 497.83,747.53 500,747.6 C502.17,747.67 505.57,748.02 510,748.2 C514.43,748.38 523.83,748.62 526.6,748.7" fill="none" stroke="#868686" stroke-width="2.6" stroke-linejoin="round"/><path d="M234.2,749.7 C238.5,749.7 253.7,749.7 260,749.7 C266.3,749.7 269.32,749.7 272,749.7 C274.68,749.6 274.98,749.7 276.1,749.1 C277.22,748.25 277.88,746.53 278.7,744.6 C279.52,742.67 280.33,739.73 281,737.5 C281.67,735.27 282.12,732.4 282.7,731.2 C283.28,730 283.9,729.85 284.5,730.3 C285.1,730.75 285.63,732.7 286.3,733.9 C286.97,735.1 287.53,736.02 288.5,737.5 C289.47,738.98 290.6,741.32 292.1,742.8 C293.6,744.28 295.42,745.5 297.5,746.4 C299.58,747.3 300.85,747.77 304.6,748.2 C308.35,748.63 313.62,748.88 320,749 C326.38,749.12 337.8,749.17 342.9,748.9 C348,748.63 348.3,748.03 350.6,747.4 C352.9,746.77 354.92,745.87 356.7,745.1 C358.48,744.33 360.03,743.68 361.3,742.8 C362.57,741.92 363.28,741.58 364.3,739.8 C365.32,738.02 366.53,734.57 367.4,732.1 C368.27,729.63 368.8,728.68 369.5,725 C370.2,721.32 370.9,714.87 371.6,710 C372.3,705.13 373.02,697.47 373.7,695.8 C374.38,694.13 375.02,697.58 375.7,700 C376.38,702.42 376.75,709.27 377.8,710.3 C378.85,711.33 380.62,707.58 382,706.2 C383.38,704.82 385.07,706.85 386.1,702 C387.13,697.15 387.5,681.93 388.2,677.1 C388.9,672.27 389.27,674.03 390.3,673 C391.33,671.97 393.2,670.9 394.4,670.9 C395.6,670.9 396.47,670.65 397.5,673 C398.53,675.35 399.48,682.23 400.6,685 C401.72,687.77 402.57,687.8 404.2,689.6 C405.83,691.4 408.32,695.8 410.4,695.8 C412.48,695.8 414.97,691.33 416.7,689.6 C418.43,687.87 419.42,683.67 420.8,685.4 C422.18,687.13 423.78,694.47 425,700 C426.22,705.53 427.23,714.8 428.1,718.6 C428.97,722.4 429.68,723.23 430.2,722.8 C430.72,722.37 430.73,721.47 431.2,716 C431.67,710.53 432.37,701 433,690 C433.63,679 434.42,660.33 435,650 C435.58,639.67 436.1,632.78 436.5,628 C436.9,623.22 437.1,619.3 437.4,621.3 C437.7,623.3 438.03,631.38 438.3,640 C438.57,648.62 438.77,661.5 439,673 C439.23,684.5 439.45,698.67 439.7,709 C439.95,719.33 440.2,728.42 440.5,735 C440.8,741.58 440.92,746.17 441.5,748.5 C442.08,749.7 443.28,749.7 444,749 C444.72,748.25 445.3,749.67 445.8,744 C446.3,738.33 446.58,729 447,715 C447.42,701 447.87,677.5 448.3,660 C448.73,642.5 449.22,624.17 449.6,610 C449.98,595.83 450.3,583.67 450.6,575 C450.9,566.33 451.18,561.67 451.4,558 C451.62,554.33 451.72,553 451.9,553 C452.08,553 452.27,552.67 452.5,558 C452.73,563.33 452.95,569.67 453.3,585 C453.65,600.33 454.15,629.17 454.6,650 C455.05,670.83 455.47,695.15 456,710 C456.53,724.85 457.07,733.5 457.8,739.1 C458.53,744.7 459.12,742.85 460.4,743.6 C461.68,744.35 464.23,743.07 465.5,743.6 C466.77,744.13 467.33,745.9 468,746.8 C468.67,747.7 469.25,748.63 469.5,749" fill="none" stroke="#000" stroke-width="2.6" stroke-dasharray="5.4 2.2" stroke-linejoin="round"/><path d="M476.5,749 C476.9,748.1 478.18,743.6 478.9,743.6 C479.62,743.6 480.48,748.1 480.8,749" fill="none" stroke="#000" stroke-width="2.6" stroke-dasharray="5.4 2.2" stroke-linejoin="round"/><path d="M494.8,749 C495.17,748.8 496.13,748.03 497,747.8 C497.87,747.57 497.83,747.53 500,747.6 C502.17,747.67 505.57,748.02 510,748.2 C514.43,748.38 523.83,748.62 526.6,748.7" fill="none" stroke="#000" stroke-width="2.6" stroke-dasharray="5.4 2.2" stroke-linejoin="round"/><path d="M234.2,749.7 C238.5,749.7 253.7,749.7 260,749.7 C266.3,749.7 269.32,749.7 272,749.7 C274.68,749.6 274.98,749.7 276.1,749.1 C277.22,748.25 277.88,746.53 278.7,744.6 C279.52,742.67 280.33,739.73 281,737.5 C281.67,735.27 282.12,732.4 282.7,731.2 C283.28,730 283.9,729.85 284.5,730.3 C285.1,730.75 285.63,732.7 286.3,733.9 C286.97,735.1 287.53,736.02 288.5,737.5 C289.47,738.98 290.6,741.32 292.1,742.8 C293.6,744.28 295.42,745.5 297.5,746.4 C299.58,747.3 300.85,747.77 304.6,748.2 C308.35,748.63 313.62,748.88 320,749 C326.38,749.12 337.8,749.17 342.9,748.9 C348,748.63 348.3,748.03 350.6,747.4 C352.9,746.77 354.92,745.87 356.7,745.1 C358.48,744.33 360.03,743.68 361.3,742.8 C362.57,741.92 363.28,741.58 364.3,739.8 C365.32,738.02 366.53,735.73 367.4,732.1 C368.27,728.47 368.8,722.67 369.5,718 C370.2,713.33 370.57,708.83 371.6,704.1 C372.63,699.37 374.48,692.37 375.7,689.6 C376.92,686.83 377.85,688.53 378.9,687.5 C379.95,686.47 380.8,685.13 382,683.4 C383.2,681.67 384.9,684.02 386.1,677.1 C387.3,670.18 388.17,650.2 389.2,641.9 C390.23,633.6 391.25,629.03 392.3,627.3 C393.35,625.57 394.45,631.15 395.5,631.5 C396.55,631.85 397.57,627.33 398.6,629.4 C399.63,631.47 400.67,639.4 401.7,643.9 C402.73,648.4 403.35,651.9 404.8,656.4 C406.25,660.9 408.42,671.6 410.4,670.9 C412.38,670.2 415.13,656.7 416.7,652.2 C418.27,647.7 418.6,642.85 419.8,643.9 C421,644.95 422.7,650.2 423.9,658.5 C425.1,666.8 426.13,685.4 427,693.7 C427.87,702 428.52,705.25 429.1,708.3 C429.68,711.35 430.15,710.72 430.5,712 C430.85,713.28 430.78,719.67 431.2,716 C431.62,712.33 432.37,701 433,690 C433.63,679 434.42,660.33 435,650 C435.58,639.67 436.1,632.78 436.5,628 C436.9,623.22 437.1,619.3 437.4,621.3 C437.7,623.3 438.03,631.38 438.3,640 C438.57,648.62 438.77,661.5 439,673 C439.23,684.5 439.45,698.67 439.7,709 C439.95,719.33 440.2,728.42 440.5,735 C440.8,741.58 440.92,746.17 441.5,748.5 C442.08,749.7 443.28,749.7 444,749 C444.72,748.25 445.3,749.67 445.8,744 C446.3,738.33 446.58,729 447,715 C447.42,701 447.87,677.5 448.3,660 C448.73,642.5 449.22,624.17 449.6,610 C449.98,595.83 450.3,583.67 450.6,575 C450.9,566.33 451.18,561.67 451.4,558 C451.62,554.33 451.72,553 451.9,553 C452.08,553 452.27,552.67 452.5,558 C452.73,563.33 452.95,569.67 453.3,585 C453.65,600.33 454.15,629.17 454.6,650 C455.05,670.83 455.47,695.15 456,710 C456.53,724.85 457.07,733.5 457.8,739.1 C458.53,744.7 459.12,742.85 460.4,743.6 C461.68,744.35 464.23,743.07 465.5,743.6 C466.77,744.13 467.33,745.9 468,746.8 C468.67,747.7 469.25,748.63 469.5,749" fill="none" stroke="#989898" stroke-width="2.6" stroke-dasharray="5.4 2.2" stroke-linejoin="round"/><path d="M476.5,749 C476.9,748.1 478.18,743.6 478.9,743.6 C479.62,743.6 480.48,748.1 480.8,749" fill="none" stroke="#989898" stroke-width="2.6" stroke-dasharray="5.4 2.2" stroke-linejoin="round"/><path d="M494.8,749 C495.17,748.8 496.13,748.03 497,747.8 C497.87,747.57 497.83,747.53 500,747.6 C502.17,747.67 505.57,748.02 510,748.2 C514.43,748.38 523.83,748.62 526.6,748.7" fill="none" stroke="#989898" stroke-width="2.6" stroke-dasharray="5.4 2.2" stroke-linejoin="round"/><path d="M234.2,749.7 C238.5,749.7 253.7,749.7 260,749.7 C266.3,749.7 269.32,749.7 272,749.7 C274.68,749.6 274.98,749.7 276.1,749.1 C277.22,748.25 277.88,746.53 278.7,744.6 C279.52,742.67 280.33,739.73 281,737.5 C281.67,735.27 282.12,732.4 282.7,731.2 C283.28,730 283.9,729.85 284.5,730.3 C285.1,730.75 285.63,732.7 286.3,733.9 C286.97,735.1 287.53,736.02 288.5,737.5 C289.47,738.98 290.6,741.32 292.1,742.8 C293.6,744.28 295.42,745.5 297.5,746.4 C299.58,747.3 300.85,747.77 304.6,748.2 C308.35,748.63 313.62,748.88 320,749 C326.38,749.12 337.8,749.17 342.9,748.9 C348,748.63 348.3,748.03 350.6,747.4 C352.9,746.77 354.92,745.87 356.7,745.1 C358.48,744.33 360.03,743.68 361.3,742.8 C362.57,741.92 363.28,742.78 364.3,739.8 C365.32,736.82 366.62,729.53 367.4,724.9 C368.18,720.27 368.47,717.2 369,712 C369.53,706.8 370,702.97 370.6,693.7 C371.2,684.43 372.02,666.08 372.6,656.4 C373.18,646.72 373.58,635.25 374.1,635.6 C374.62,635.95 375.08,652.27 375.7,658.5 C376.32,664.73 376.75,670.23 377.8,673 C378.85,675.77 380.62,675.1 382,675.1 C383.38,675.1 385.07,680.27 386.1,673 C387.13,665.73 387.5,644.3 388.2,631.5 C388.9,618.7 389.7,600.78 390.3,596.2 C390.9,591.62 391.28,601.23 391.8,604 C392.32,606.77 392.87,612.47 393.4,612.8 C393.93,613.13 394.48,607.38 395,606 C395.52,604.62 396,604.17 396.5,604.5 C397,604.83 397.48,605.23 398,608 C398.52,610.77 398.92,617.18 399.6,621.1 C400.28,625.02 400.98,627.7 402.1,631.5 C403.22,635.3 405.08,641.13 406.3,643.9 C407.52,646.67 408.53,646.02 409.4,648.1 C410.27,650.18 410.73,656.92 411.5,656.4 C412.27,655.88 413.13,649.15 414,645 C414.87,640.85 415.57,636.52 416.7,631.5 C417.83,626.48 419.6,614.9 420.8,614.9 C422,614.9 423.03,621.82 423.9,631.5 C424.77,641.18 425.3,661.58 426,673 C426.7,684.42 427.4,694.47 428.1,700 C428.8,705.53 429.68,703.53 430.2,706.2 C430.72,708.87 430.73,718.7 431.2,716 C431.67,713.3 432.37,701 433,690 C433.63,679 434.42,660.33 435,650 C435.58,639.67 436.1,632.78 436.5,628 C436.9,623.22 437.1,619.3 437.4,621.3 C437.7,623.3 438.03,631.38 438.3,640 C438.57,648.62 438.77,661.5 439,673 C439.23,684.5 439.45,698.67 439.7,709 C439.95,719.33 440.2,728.42 440.5,735 C440.8,741.58 440.92,746.17 441.5,748.5 C442.08,749.7 443.28,749.7 444,749 C444.72,748.25 445.3,749.67 445.8,744 C446.3,738.33 446.58,729 447,715 C447.42,701 447.87,677.5 448.3,660 C448.73,642.5 449.22,624.17 449.6,610 C449.98,595.83 450.3,583.67 450.6,575 C450.9,566.33 451.18,561.67 451.4,558 C451.62,554.33 451.72,553 451.9,553 C452.08,553 452.27,552.67 452.5,558 C452.73,563.33 452.95,569.67 453.3,585 C453.65,600.33 454.15,629.17 454.6,650 C455.05,670.83 455.47,695.15 456,710 C456.53,724.85 457.07,733.5 457.8,739.1 C458.53,744.7 459.12,742.85 460.4,743.6 C461.68,744.35 464.23,743.07 465.5,743.6 C466.77,744.13 467.33,745.9 468,746.8 C468.67,747.7 469.25,748.63 469.5,749" fill="none" stroke="#000" stroke-width="2.2" stroke-dasharray="2.1 1.67" stroke-linejoin="round"/><path d="M476.5,749 C476.9,748.1 478.18,743.6 478.9,743.6 C479.62,743.6 480.48,748.1 480.8,749" fill="none" stroke="#000" stroke-width="2.2" stroke-dasharray="2.1 1.67" stroke-linejoin="round"/><path d="M494.8,749 C495.17,748.8 496.13,748.03 497,747.8 C497.87,747.57 497.83,747.53 500,747.6 C502.17,747.67 505.57,748.02 510,748.2 C514.43,748.38 523.83,748.62 526.6,748.7" fill="none" stroke="#000" stroke-width="2.2" stroke-dasharray="2.1 1.67" stroke-linejoin="round"/></g><text x="234.2" y="765.2" font-size="10" text-anchor="middle">5</text><text x="273.26" y="765.2" font-size="10" text-anchor="middle">7</text><text x="312.32" y="765.2" font-size="10" text-anchor="middle">9</text><text x="351.38" y="765.2" font-size="10" text-anchor="middle">11</text><text x="390.44" y="765.2" font-size="10" text-anchor="middle">13</text><text x="429.5" y="765.2" font-size="10" text-anchor="middle">15</text><text x="468.56" y="765.2" font-size="10" text-anchor="middle">17</text><text x="507.62" y="765.2" font-size="10" text-anchor="middle">19</text><text x="226.2" y="538.4" font-size="10" text-anchor="end">120</text><text x="226.2" y="574.4" font-size="10" text-anchor="end">100</text><text x="226.2" y="610.2" font-size="10" text-anchor="end">80</text><text x="226.2" y="645.7" font-size="10" text-anchor="end">60</text><text x="226.2" y="681.8" font-size="10" text-anchor="end">40</text><text x="226.2" y="717.8" font-size="10" text-anchor="end">20</text><text x="226.2" y="753.2" font-size="10" text-anchor="end">0</text><text transform="translate(207,642.7) rotate(-90)" font-size="10" text-anchor="middle" textLength="69" lengthAdjust="spacingAndGlyphs">Response (mAU)</text><text x="337.8" y="778.9" font-size="10" textLength="84.9" lengthAdjust="spacingAndGlyphs" xml:space="preserve">Retention time &#160;(min)</text><text transform="translate(239.4,545.6) scale(0.95,1)" font-size="16.5">e</text><text x="368.9" y="548.1" font-size="10" textLength="60.1" lengthAdjust="spacingAndGlyphs">5 kDa-0.1 kDa</text><line x1="508.4" y1="609.1" x2="530.3" y2="609.1" stroke="#000" stroke-width="2.6"/><text transform="translate(533.5,612.5) scale(0.97,1)" font-size="10">Gastric juice</text><line x1="508.4" y1="625.2" x2="530.3" y2="625.2" stroke="#868686" stroke-width="2.6"/><text transform="translate(533.5,628.6) scale(0.97,1)" font-size="10">20 min</text><line x1="508.4" y1="640.9" x2="530.3" y2="640.9" stroke="#000" stroke-width="2.6" stroke-dasharray="5.4 2.2"/><text transform="translate(533.5,644.3) scale(0.97,1)" font-size="10">60 min</text><line x1="508.4" y1="656.6" x2="530.3" y2="656.6" stroke="#989898" stroke-width="2.6" stroke-dasharray="5.4 2.2"/><text transform="translate(533.5,660) scale(0.97,1)" font-size="10">120 min</text><line x1="508.4" y1="672" x2="530.3" y2="672" stroke="#000" stroke-width="2.2" stroke-dasharray="2.1 1.67"/><text transform="translate(533.5,675.4) scale(0.97,1)" font-size="10">180 min</text></g>
</svg></body></html>
